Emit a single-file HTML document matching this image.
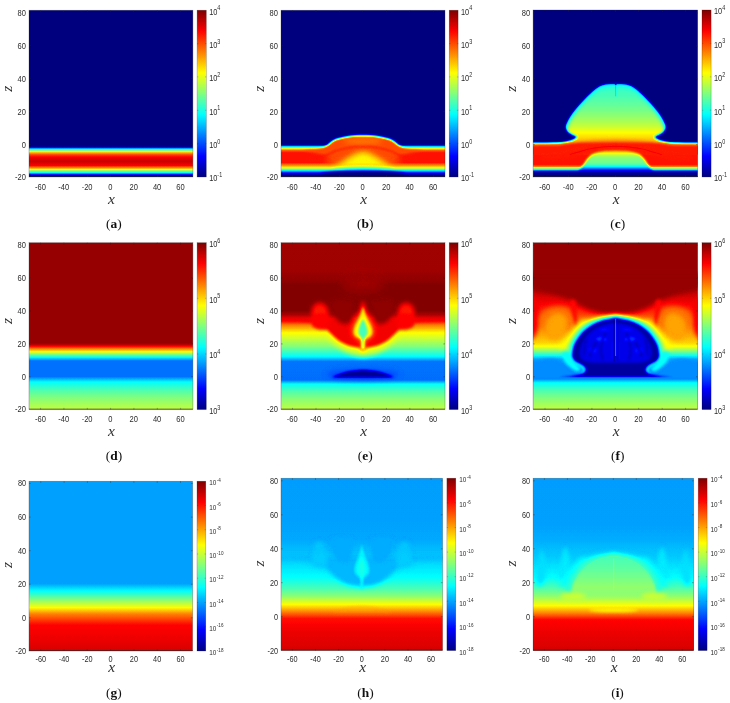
<!DOCTYPE html>
<html lang="en">
<head>
<meta charset="utf-8">
<title>Figure: density, temperature and emissivity maps (a)-(i)</title>
<style>
html,body{margin:0;padding:0;background:#fff}
svg{display:block}
text{font-family:"Liberation Sans",Arial,sans-serif;font-size:7.8px;fill:#2c2c2c}
text.m{font-family:"Liberation Serif","DejaVu Serif",serif;font-style:italic;font-size:15.5px;fill:#303030}
text.c{font-family:"Liberation Serif","DejaVu Serif",serif;font-size:13.4px;fill:#111}
</style>
</head>
<body>
<svg width="730" height="703" viewBox="0 0 730 703">
<defs>
<filter id="jet" filterUnits="userSpaceOnUse" x="0" y="0" width="730" height="703" color-interpolation-filters="sRGB">
<feComponentTransfer>
<feFuncR type="table" tableValues="0 0 0 0 0.5 1 1 1 0.5"/>
<feFuncG type="table" tableValues="0 0 0.5 1 1 1 0.5 0 0"/>
<feFuncB type="table" tableValues="0.5 1 1 1 0.5 0 0 0 0"/>
</feComponentTransfer>
</filter>
<filter id="soft" filterUnits="userSpaceOnUse" x="0" y="0" width="730" height="703"><feGaussianBlur stdDeviation="0.28"/></filter>
<linearGradient id="ga" gradientUnits="userSpaceOnUse" x1="0" y1="0" x2="0" y2="166.9"><stop offset="0.0000" stop-color="#000000"/><stop offset="0.8125" stop-color="#000000"/><stop offset="0.8185" stop-color="#080808"/><stop offset="0.8328" stop-color="#606060"/><stop offset="0.8436" stop-color="#8c8c8c"/><stop offset="0.8520" stop-color="#adadad"/><stop offset="0.8652" stop-color="#cccccc"/><stop offset="0.8796" stop-color="#dfdfdf"/><stop offset="0.9053" stop-color="#ededed"/><stop offset="0.9311" stop-color="#dfdfdf"/><stop offset="0.9437" stop-color="#bfbfbf"/><stop offset="0.9545" stop-color="#9f9f9f"/><stop offset="0.9652" stop-color="#787878"/><stop offset="0.9736" stop-color="#606060"/><stop offset="0.9820" stop-color="#333333"/><stop offset="0.9904" stop-color="#080808"/><stop offset="1.0000" stop-color="#000000"/></linearGradient>
<linearGradient id="gb" gradientUnits="userSpaceOnUse" x1="0" y1="0" x2="0" y2="166.9"><stop offset="0.0000" stop-color="#000000"/><stop offset="0.8005" stop-color="#000000"/><stop offset="0.8065" stop-color="#080808"/><stop offset="0.8185" stop-color="#606060"/><stop offset="0.8286" stop-color="#999999"/><stop offset="0.8400" stop-color="#c7c7c7"/><stop offset="0.8544" stop-color="#dbdbdb"/><stop offset="0.9155" stop-color="#dbdbdb"/><stop offset="0.9317" stop-color="#c7c7c7"/><stop offset="0.9455" stop-color="#9f9f9f"/><stop offset="0.9599" stop-color="#606060"/><stop offset="0.9754" stop-color="#1f1f1f"/><stop offset="0.9886" stop-color="#050505"/><stop offset="1.0000" stop-color="#000000"/></linearGradient>
<linearGradient id="gb2" gradientUnits="userSpaceOnUse" x1="0" y1="152.5" x2="0" y2="166.9"><stop offset="0.0000" stop-color="#b2b2b2" stop-opacity="0"/><stop offset="0.1875" stop-color="#b2b2b2" stop-opacity="0.55"/><stop offset="0.3125" stop-color="#a7a7a7" stop-opacity="1"/><stop offset="0.3681" stop-color="#9f9f9f"/><stop offset="0.5347" stop-color="#606060"/><stop offset="0.7153" stop-color="#1f1f1f"/><stop offset="0.8681" stop-color="#050505"/><stop offset="1.0000" stop-color="#000000"/></linearGradient>
<filter id="b3_0" filterUnits="userSpaceOnUse" x="-14" y="-14" width="192" height="195" color-interpolation-filters="sRGB"><feGaussianBlur stdDeviation="3"/></filter>
<filter id="b0_8" filterUnits="userSpaceOnUse" x="-14" y="-14" width="192" height="195" color-interpolation-filters="sRGB"><feGaussianBlur stdDeviation="0.8"/></filter>
<filter id="b2_2" filterUnits="userSpaceOnUse" x="-14" y="-14" width="192" height="195" color-interpolation-filters="sRGB"><feGaussianBlur stdDeviation="2.2"/></filter>
<filter id="b0_9" filterUnits="userSpaceOnUse" x="-14" y="-14" width="192" height="195" color-interpolation-filters="sRGB"><feGaussianBlur stdDeviation="0.9"/></filter>
<filter id="b1_9" filterUnits="userSpaceOnUse" x="-14" y="-14" width="192" height="195" color-interpolation-filters="sRGB"><feGaussianBlur stdDeviation="1.9"/></filter>
<filter id="b1_5" filterUnits="userSpaceOnUse" x="-14" y="-14" width="192" height="195" color-interpolation-filters="sRGB"><feGaussianBlur stdDeviation="1.5"/></filter>
<linearGradient id="gc" gradientUnits="userSpaceOnUse" x1="0" y1="0" x2="0" y2="166.9"><stop offset="0.0000" stop-color="#000000"/><stop offset="0.7825" stop-color="#000000"/><stop offset="0.7885" stop-color="#080808"/><stop offset="0.8005" stop-color="#606060"/><stop offset="0.8089" stop-color="#999999"/><stop offset="0.8167" stop-color="#c7c7c7"/><stop offset="0.8268" stop-color="#dbdbdb"/><stop offset="0.9245" stop-color="#dbdbdb"/><stop offset="0.9359" stop-color="#c7c7c7"/><stop offset="0.9437" stop-color="#9f9f9f"/><stop offset="0.9557" stop-color="#606060"/><stop offset="0.9646" stop-color="#262626"/><stop offset="0.9742" stop-color="#050505"/><stop offset="1.0000" stop-color="#000000"/></linearGradient>
<linearGradient id="gcd" gradientUnits="userSpaceOnUse" x1="0" y1="74" x2="0" y2="136"><stop offset="0.0000" stop-color="#6b6b6b"/><stop offset="0.1774" stop-color="#717171"/><stop offset="0.4194" stop-color="#7d7d7d"/><stop offset="0.6129" stop-color="#8b8b8b"/><stop offset="0.7097" stop-color="#959595"/><stop offset="0.7903" stop-color="#a1a1a1"/><stop offset="0.8710" stop-color="#aaaaaa"/><stop offset="0.9355" stop-color="#b8b8b8"/><stop offset="1.0000" stop-color="#c7c7c7"/></linearGradient>
<clipPath id="cdome"><path d="M-14 133.6C-11.7 133.6 -5.1 133.6 0 133.6C5.1 133.6 12.3 133.5 16.9 133.3C21.5 133.1 24.8 132.9 27.6 132.6C30.4 132.3 31.7 132.1 33.8 131.6C35.9 131.1 38.5 130.4 40.1 129.6C41.7 128.8 43.8 127.8 43.6 126.9C43.5 126.1 40.7 125.4 39.2 124.5C37.7 123.6 35.8 122.7 34.7 121.4C33.7 120.2 32.9 118.6 32.9 117C32.9 115.4 33.5 114 34.7 111.6C35.9 109.2 37.7 106 40.1 102.7C42.5 99.5 46 95.3 49 92.1C52 88.8 55.6 85.4 57.9 83.2C60.2 81 61.3 80.2 62.8 79C64.3 77.8 65.5 77 67 76.3C68.5 75.6 70.1 75 71.8 74.7C73.5 74.4 75.2 74.3 77 74.2C78.8 74.2 80.5 74.2 82.3 74.2C84.1 74.2 85.8 74.2 87.6 74.2C89.3 74.3 91.1 74.4 92.8 74.7C94.5 75 96.1 75.6 97.6 76.3C99.1 77 100.3 77.8 101.8 79C103.3 80.2 104.4 81 106.7 83.2C109 85.4 112.6 88.8 115.6 92.1C118.6 95.3 122.1 99.5 124.5 102.7C126.9 106 128.7 109.2 129.9 111.6C131.1 114 131.7 115.4 131.7 117C131.7 118.6 130.9 120.2 129.9 121.4C128.8 122.7 126.9 123.6 125.4 124.5C123.9 125.4 121.2 126.1 121 126.9C120.8 127.8 122.9 128.8 124.5 129.6C126.1 130.4 128.7 131.1 130.8 131.6C132.9 132.1 134.2 132.3 137 132.6C139.8 132.9 143.1 133.1 147.7 133.3C152.3 133.5 159.4 133.6 164.6 133.6C169.8 133.6 176.3 133.6 178.6 133.6L178.6 144.5L-14 144.5Z"/></clipPath>
<linearGradient id="gcav" gradientUnits="userSpaceOnUse" x1="0" y1="138" x2="0" y2="166.9"><stop offset="0.0000" stop-color="#c7c7c7"/><stop offset="0.0830" stop-color="#b8b8b8"/><stop offset="0.1592" stop-color="#a1a1a1"/><stop offset="0.2561" stop-color="#8c8c8c"/><stop offset="0.3633" stop-color="#808080"/><stop offset="0.5398" stop-color="#7a7a7a"/><stop offset="0.6436" stop-color="#606060"/><stop offset="0.7474" stop-color="#262626"/><stop offset="0.8374" stop-color="#050505"/><stop offset="1.0000" stop-color="#000000"/></linearGradient>
<filter id="b1_1" filterUnits="userSpaceOnUse" x="-14" y="-14" width="192" height="195" color-interpolation-filters="sRGB"><feGaussianBlur stdDeviation="1.1"/></filter>
<filter id="b1_8" filterUnits="userSpaceOnUse" x="-14" y="-14" width="192" height="195" color-interpolation-filters="sRGB"><feGaussianBlur stdDeviation="1.8"/></filter>
<filter id="b2_6" filterUnits="userSpaceOnUse" x="-14" y="-14" width="192" height="195" color-interpolation-filters="sRGB"><feGaussianBlur stdDeviation="2.6"/></filter>
<filter id="b1_2" filterUnits="userSpaceOnUse" x="-14" y="-14" width="192" height="195" color-interpolation-filters="sRGB"><feGaussianBlur stdDeviation="1.2"/></filter>
<filter id="b1_3" filterUnits="userSpaceOnUse" x="-14" y="-14" width="192" height="195" color-interpolation-filters="sRGB"><feGaussianBlur stdDeviation="1.3"/></filter>
<filter id="b0_7" filterUnits="userSpaceOnUse" x="-14" y="-14" width="192" height="195" color-interpolation-filters="sRGB"><feGaussianBlur stdDeviation="0.7"/></filter>
<filter id="b0_5" filterUnits="userSpaceOnUse" x="-14" y="-14" width="192" height="195" color-interpolation-filters="sRGB"><feGaussianBlur stdDeviation="0.5"/></filter>
<linearGradient id="gd" gradientUnits="userSpaceOnUse" x1="0" y1="0" x2="0" y2="166.9"><stop offset="0.0000" stop-color="#f9f9f9"/><stop offset="0.5992" stop-color="#f9f9f9"/><stop offset="0.6075" stop-color="#f5f5f5"/><stop offset="0.6207" stop-color="#dfdfdf"/><stop offset="0.6351" stop-color="#bfbfbf"/><stop offset="0.6531" stop-color="#9f9f9f"/><stop offset="0.6681" stop-color="#808080"/><stop offset="0.6860" stop-color="#606060"/><stop offset="0.7076" stop-color="#3c3c3c"/><stop offset="0.8017" stop-color="#3c3c3c"/><stop offset="0.8346" stop-color="#606060"/><stop offset="0.8850" stop-color="#737373"/><stop offset="0.9287" stop-color="#808080"/><stop offset="1.0000" stop-color="#909090"/></linearGradient>
<linearGradient id="gg" gradientUnits="userSpaceOnUse" x1="0" y1="0" x2="0" y2="166.9"><stop offset="0.0000" stop-color="#484848"/><stop offset="0.6022" stop-color="#484848"/><stop offset="0.6465" stop-color="#606060"/><stop offset="0.6962" stop-color="#808080"/><stop offset="0.7442" stop-color="#9f9f9f"/><stop offset="0.7819" stop-color="#bfbfbf"/><stop offset="0.8472" stop-color="#dfdfdf"/><stop offset="0.9209" stop-color="#e3e3e3"/><stop offset="1.0000" stop-color="#e9e9e9"/></linearGradient>
<linearGradient id="ge" gradientUnits="userSpaceOnUse" x1="0" y1="0" x2="0" y2="166.9"><stop offset="0.0000" stop-color="#f6f6f6"/><stop offset="0.1678" stop-color="#f7f7f7"/><stop offset="0.2157" stop-color="#fafafa"/><stop offset="0.2576" stop-color="#fefefe"/><stop offset="0.4074" stop-color="#fefefe"/><stop offset="0.4374" stop-color="#f2f2f2"/><stop offset="0.4632" stop-color="#dfdfdf"/><stop offset="0.4943" stop-color="#bfbfbf"/><stop offset="0.5404" stop-color="#9f9f9f"/><stop offset="0.6207" stop-color="#808080"/><stop offset="0.6806" stop-color="#606060"/><stop offset="0.7112" stop-color="#3d3d3d"/><stop offset="0.8226" stop-color="#3b3b3b"/><stop offset="0.8466" stop-color="#606060"/><stop offset="0.8898" stop-color="#737373"/><stop offset="0.9317" stop-color="#808080"/><stop offset="1.0000" stop-color="#909090"/></linearGradient>
<filter id="b4_0" filterUnits="userSpaceOnUse" x="-14" y="-14" width="192" height="195" color-interpolation-filters="sRGB"><feGaussianBlur stdDeviation="4"/></filter>
<filter id="b2_8" filterUnits="userSpaceOnUse" x="-14" y="-14" width="192" height="195" color-interpolation-filters="sRGB"><feGaussianBlur stdDeviation="2.8"/></filter>
<filter id="b2_0" filterUnits="userSpaceOnUse" x="-14" y="-14" width="192" height="195" color-interpolation-filters="sRGB"><feGaussianBlur stdDeviation="2"/></filter>
<filter id="b1_6" filterUnits="userSpaceOnUse" x="-14" y="-14" width="192" height="195" color-interpolation-filters="sRGB"><feGaussianBlur stdDeviation="1.6"/></filter>
<filter id="b1_0" filterUnits="userSpaceOnUse" x="-14" y="-14" width="192" height="195" color-interpolation-filters="sRGB"><feGaussianBlur stdDeviation="1"/></filter>
<filter id="b2_5" filterUnits="userSpaceOnUse" x="-14" y="-14" width="192" height="195" color-interpolation-filters="sRGB"><feGaussianBlur stdDeviation="2.5"/></filter>
<linearGradient id="gh" gradientUnits="userSpaceOnUse" x1="0" y1="0" x2="0" y2="166.9"><stop offset="0.0000" stop-color="#474747"/><stop offset="0.2397" stop-color="#484848"/><stop offset="0.3529" stop-color="#4a4a4a"/><stop offset="0.4715" stop-color="#545454"/><stop offset="0.5752" stop-color="#606060"/><stop offset="0.6345" stop-color="#707070"/><stop offset="0.6794" stop-color="#808080"/><stop offset="0.7316" stop-color="#9f9f9f"/><stop offset="0.7759" stop-color="#bfbfbf"/><stop offset="0.8131" stop-color="#dbdbdb"/><stop offset="0.8724" stop-color="#e2e2e2"/><stop offset="1.0000" stop-color="#e9e9e9"/></linearGradient>
<filter id="b1_4" filterUnits="userSpaceOnUse" x="-14" y="-14" width="192" height="195" color-interpolation-filters="sRGB"><feGaussianBlur stdDeviation="1.4"/></filter>
<linearGradient id="gf" gradientUnits="userSpaceOnUse" x1="0" y1="0" x2="0" y2="166.9"><stop offset="0.0000" stop-color="#f9f9f9"/><stop offset="0.2516" stop-color="#f9f9f9"/><stop offset="0.2936" stop-color="#f2f2f2"/><stop offset="0.3295" stop-color="#e7e7e7"/><stop offset="0.3775" stop-color="#dfdfdf"/><stop offset="0.4134" stop-color="#d5d5d5"/><stop offset="0.4554" stop-color="#c7c7c7"/><stop offset="0.5273" stop-color="#bbbbbb"/><stop offset="0.5692" stop-color="#b2b2b2"/><stop offset="0.5992" stop-color="#aaaaaa"/><stop offset="0.6201" stop-color="#9f9f9f"/><stop offset="0.6501" stop-color="#808080"/><stop offset="0.6771" stop-color="#606060"/><stop offset="0.6980" stop-color="#494949"/><stop offset="0.7669" stop-color="#444444"/><stop offset="0.8167" stop-color="#424242"/><stop offset="0.8394" stop-color="#606060"/><stop offset="0.8868" stop-color="#737373"/><stop offset="0.9317" stop-color="#808080"/><stop offset="1.0000" stop-color="#909090"/></linearGradient>
<clipPath id="cfd"><path d="M26 134.5C27.9 134.3 33.9 133.9 37.3 133.5C40.7 133.1 43.8 132.6 46.2 131.9C48.6 131.2 50.6 130.2 51.6 129.2C52.6 128.1 52.7 126.8 52.2 125.6C51.7 124.4 50.4 123.2 48.8 122.1C47.2 121 44.1 120 42.6 118.9C41.1 117.8 40.5 116.8 39.9 115.6C39.3 114.4 38.9 114 39.1 111.9C39.3 109.8 39.9 105.7 40.9 102.8C41.9 99.9 43.7 97.3 45.4 94.8C47.1 92.3 48.8 90.1 51.1 88C53.4 85.9 56.1 83.9 59 82.3C61.9 80.7 65 79.3 68.2 78.3C71.4 77.2 76.1 76.5 78.4 76C80.8 75.5 81 75.6 82.3 75.6C83.6 75.6 83.8 75.5 86.2 76C88.5 76.5 93.2 77.2 96.4 78.3C99.6 79.3 102.8 80.7 105.6 82.3C108.4 83.9 111.2 85.9 113.5 88C115.8 90.1 117.5 92.3 119.2 94.8C120.9 97.3 122.6 99.9 123.7 102.8C124.7 105.7 125.3 109.8 125.5 111.9C125.7 114 125.3 114.4 124.7 115.6C124.1 116.8 123.5 117.8 122 118.9C120.5 120 117.4 121 115.8 122.1C114.2 123.2 112.9 124.4 112.4 125.6C111.9 126.8 112 128.1 113 129.2C114 130.2 116 131.2 118.4 131.9C120.8 132.6 123.9 133.1 127.3 133.5C130.7 133.9 136.7 134.3 138.6 134.5Z"/></clipPath>
<filter id="b1_7" filterUnits="userSpaceOnUse" x="-14" y="-14" width="192" height="195" color-interpolation-filters="sRGB"><feGaussianBlur stdDeviation="1.7"/></filter>
<filter id="b0_6" filterUnits="userSpaceOnUse" x="-14" y="-14" width="192" height="195" color-interpolation-filters="sRGB"><feGaussianBlur stdDeviation="0.6"/></filter>
<linearGradient id="gi" gradientUnits="userSpaceOnUse" x1="0" y1="0" x2="0" y2="166.9"><stop offset="0.0000" stop-color="#474747"/><stop offset="0.2696" stop-color="#484848"/><stop offset="0.3529" stop-color="#4b4b4b"/><stop offset="0.4715" stop-color="#545454"/><stop offset="0.5752" stop-color="#606060"/><stop offset="0.6345" stop-color="#737373"/><stop offset="0.6794" stop-color="#808080"/><stop offset="0.7388" stop-color="#9f9f9f"/><stop offset="0.7831" stop-color="#bfbfbf"/><stop offset="0.8203" stop-color="#dedede"/><stop offset="0.8748" stop-color="#e2e2e2"/><stop offset="1.0000" stop-color="#e9e9e9"/></linearGradient>
<linearGradient id="gi2" gradientUnits="userSpaceOnUse" x1="0" y1="106" x2="0" y2="166.9"><stop offset="0.0000" stop-color="#737373" stop-opacity="0"/><stop offset="0.0821" stop-color="#7c7c7c" stop-opacity="0.5"/><stop offset="0.1642" stop-color="#888888" stop-opacity="1"/><stop offset="0.2841" stop-color="#9f9f9f"/><stop offset="0.4056" stop-color="#bfbfbf"/><stop offset="0.5074" stop-color="#dedede"/><stop offset="0.6568" stop-color="#e2e2e2"/><stop offset="1.0000" stop-color="#e9e9e9"/></linearGradient>
<linearGradient id="gid" gradientUnits="userSpaceOnUse" x1="0" y1="74" x2="0" y2="124"><stop offset="0.0000" stop-color="#707070"/><stop offset="0.3200" stop-color="#797979"/><stop offset="0.6000" stop-color="#838383"/><stop offset="0.8000" stop-color="#8c8c8c"/><stop offset="1.0000" stop-color="#999999"/></linearGradient>
<filter id="b2_4" filterUnits="userSpaceOnUse" x="-14" y="-14" width="192" height="195" color-interpolation-filters="sRGB"><feGaussianBlur stdDeviation="2.4"/></filter>
<clipPath id="cpa"><rect x="29" y="10.2" width="163.9" height="166.8"/></clipPath>
<clipPath id="cpb"><rect x="281" y="10.2" width="164" height="166.8"/></clipPath>
<clipPath id="cpc"><rect x="533.1" y="10" width="164.6" height="167"/></clipPath>
<clipPath id="cpd"><rect x="29" y="242.7" width="163.9" height="166.9"/></clipPath>
<clipPath id="cpe"><rect x="281" y="242.7" width="164" height="166.9"/></clipPath>
<clipPath id="cpf"><rect x="533.1" y="242.7" width="164.6" height="166.9"/></clipPath>
<clipPath id="cpg"><rect x="29" y="481.2" width="163.6" height="169.8"/></clipPath>
<clipPath id="cph"><rect x="281" y="478.2" width="161.6" height="172.4"/></clipPath>
<clipPath id="cpi"><rect x="533.1" y="478.2" width="160.6" height="172.4"/></clipPath>
<linearGradient id="cbar" x1="0" y1="1" x2="0" y2="0"><stop offset="0" stop-color="#000"/><stop offset="1" stop-color="#fff"/></linearGradient>
</defs>
<g filter="url(#jet)">
<g clip-path="url(#cpa)"><g transform="translate(29 10.2) scale(0.9994 0.9994)">
<rect x="-2" y="-2" width="168" height="171" fill="url(#ga)"/>
</g></g>
<rect x="197.1" y="10.2" width="9.2" height="166.8" fill="url(#cbar)"/>
<g clip-path="url(#cpb)"><g transform="translate(281 10.2) scale(1.0000 0.9994)">
<rect x="-2" y="-2" width="168" height="171" fill="url(#gb)"/>
<path d="M49 139L115 139L119 156L45 156Z" fill="#cdcdcd" filter="url(#b3_0)"/>
<path d="M20 139.6C22 139.6 29 139.6 32 139.4C35 139.2 36.2 138.9 38 138.6C39.8 138.2 41.6 137.9 43 137.3C44.4 136.7 45.3 136 46.5 135.2C47.7 134.3 48.7 133.2 50 132.2C51.3 131.2 52.3 130.2 54.5 129.4C56.7 128.6 60.4 127.8 63.4 127.2C66.4 126.6 69.2 126.3 72.3 126C75.4 125.7 78.8 125.6 82 125.6C85.2 125.6 88.6 125.7 91.7 126C94.8 126.3 97.6 126.6 100.6 127.2C103.6 127.8 107.3 128.6 109.5 129.4C111.7 130.2 112.7 131.2 114 132.2C115.3 133.2 116.3 134.3 117.5 135.2C118.7 136 119.6 136.7 121 137.3C122.4 137.9 124.2 138.2 126 138.6C127.8 138.9 129 139.2 132 139.4C135 139.6 142 139.6 144 139.6L112 147L52 147Z" fill="#cdcdcd" filter="url(#b0_8)"/>
<ellipse cx="82" cy="131" rx="19" ry="3.4" fill="#c2c2c2" filter="url(#b2_2)"/>
<path d="M31 149.1C33 148.5 40.2 146.6 43.3 145.7C46.4 144.7 47.4 144.1 49.5 143.2C51.5 142.3 52.6 141.4 55.6 140.5C58.7 139.5 63.6 138.2 68 137.5C72.4 136.9 77.3 136.6 82 136.6C86.7 136.6 91.6 136.9 96 137.5C100.4 138.2 105.3 139.5 108.4 140.5C111.4 141.4 112.5 142.3 114.5 143.2C116.6 144.1 117.6 144.7 120.7 145.7C123.8 146.6 131 148.5 133 149.1" fill="none" stroke="#dbdbdb" stroke-width="1.5" stroke-linecap="round" filter="url(#b0_9)"/>
<path d="M42.1 167.6C42.8 166.4 44 162.5 46.3 160.2C48.5 157.9 52.4 155.7 55.6 153.5C58.8 151.4 62.4 149 65.5 147.1C68.6 145.2 71.4 143.3 74.1 142.2C76.9 141.1 79.4 140.4 82 140.4C84.6 140.4 87.1 141.1 89.9 142.2C92.6 143.3 95.4 145.2 98.5 147.1C101.6 149 105.2 151.4 108.4 153.5C111.6 155.7 115.5 157.9 117.7 160.2C120 162.5 121.2 166.4 121.9 167.6Z" fill="#b6b6b6" filter="url(#b2_2)"/>
<path d="M49.5 167.6C50.2 166.4 52 162.4 53.9 160.2C55.8 158 58.5 156.4 61.1 154.5C63.6 152.7 66.6 150.7 69.2 149.1C71.8 147.5 74.5 146 76.6 145.2C78.7 144.3 80.2 143.8 82 143.8C83.8 143.8 85.3 144.3 87.4 145.2C89.5 146 92.2 147.5 94.8 149.1C97.4 150.7 100.4 152.7 102.9 154.5C105.5 156.4 108.2 158 110.1 160.2C112 162.4 113.8 166.4 114.5 167.6Z" fill="#a1a1a1" filter="url(#b1_9)"/>
<rect x="-2" y="152.5" width="168" height="15" fill="url(#gb2)"/>
<ellipse cx="82" cy="158.8" rx="30" ry="1.8" fill="#6b6b6b" filter="url(#b1_5)"/>
<ellipse cx="82" cy="164.6" rx="42" ry="4.2" fill="#000000" filter="url(#b1_5)"/>
</g></g>
<rect x="449.2" y="10.2" width="8.9" height="166.8" fill="url(#cbar)"/>
<g clip-path="url(#cpc)"><g transform="translate(533.1 10) scale(1.0037 1.0006)">
<rect x="-2" y="-2" width="168" height="171" fill="url(#gc)"/>
<path d="M-14 133.6C-11.7 133.6 -5.1 133.6 0 133.6C5.1 133.6 12.3 133.5 16.9 133.3C21.5 133.1 24.8 132.9 27.6 132.6C30.4 132.3 31.7 132.1 33.8 131.6C35.9 131.1 38.5 130.4 40.1 129.6C41.7 128.8 43.8 127.8 43.6 126.9C43.5 126.1 40.7 125.4 39.2 124.5C37.7 123.6 35.8 122.7 34.7 121.4C33.7 120.2 32.9 118.6 32.9 117C32.9 115.4 33.5 114 34.7 111.6C35.9 109.2 37.7 106 40.1 102.7C42.5 99.5 46 95.3 49 92.1C52 88.8 55.6 85.4 57.9 83.2C60.2 81 61.3 80.2 62.8 79C64.3 77.8 65.5 77 67 76.3C68.5 75.6 70.1 75 71.8 74.7C73.5 74.4 75.2 74.3 77 74.2C78.8 74.2 80.5 74.2 82.3 74.2C84.1 74.2 85.8 74.2 87.6 74.2C89.3 74.3 91.1 74.4 92.8 74.7C94.5 75 96.1 75.6 97.6 76.3C99.1 77 100.3 77.8 101.8 79C103.3 80.2 104.4 81 106.7 83.2C109 85.4 112.6 88.8 115.6 92.1C118.6 95.3 122.1 99.5 124.5 102.7C126.9 106 128.7 109.2 129.9 111.6C131.1 114 131.7 115.4 131.7 117C131.7 118.6 130.9 120.2 129.9 121.4C128.8 122.7 126.9 123.6 125.4 124.5C123.9 125.4 121.2 126.1 121 126.9C120.8 127.8 122.9 128.8 124.5 129.6C126.1 130.4 128.7 131.1 130.8 131.6C132.9 132.1 134.2 132.3 137 132.6C139.8 132.9 143.1 133.1 147.7 133.3C152.3 133.5 159.4 133.6 164.6 133.6C169.8 133.6 176.3 133.6 178.6 133.6L178.6 139L-14 139Z" fill="url(#gcd)" filter="url(#b1_1)"/>
<g clip-path="url(#cdome)"><path d="M32.9 117C33.2 116.1 33.5 114 34.7 111.6C35.9 109.2 37.7 106 40.1 102.7C42.5 99.5 46 95.3 49 92.1C52 88.8 55.6 85.4 57.9 83.2C60.2 81 61.3 80.2 62.8 79C64.3 77.8 65.5 77 67 76.3C68.5 75.6 70.1 75 71.8 74.7C73.5 74.4 75.2 74.3 77 74.2C78.8 74.2 80.5 74.2 82.3 74.2C84.1 74.2 85.8 74.2 87.6 74.2C89.3 74.3 91.1 74.4 92.8 74.7C94.5 75 96.1 75.6 97.6 76.3C99.1 77 100.3 77.8 101.8 79C103.3 80.2 104.4 81 106.7 83.2C109 85.4 112.6 88.8 115.6 92.1C118.6 95.3 122.1 99.5 124.5 102.7C126.9 106 128.7 109.2 129.9 111.6C131.1 114 131.4 116.1 131.7 117" fill="none" stroke="#636363" stroke-width="5" stroke-linecap="round" filter="url(#b1_8)" opacity="0.7"/><ellipse cx="82.3" cy="138" rx="40" ry="6.5" fill="#c9c9c9" filter="url(#b2_6)"/><path d="M-12 135.6C-6.7 135.6 13 135.7 20 135.5C27 135.3 26.7 135 30 134.6C33.3 134.2 37 133.5 40 133.2C43 132.9 44.3 132.7 48 132.6C51.7 132.5 56.3 132.6 62 132.6C67.7 132.6 75.5 132.6 82.3 132.6C89.1 132.6 96.9 132.6 102.6 132.6C108.3 132.6 112.9 132.5 116.6 132.6C120.3 132.7 121.6 132.9 124.6 133.2C127.6 133.5 131.3 134.2 134.6 134.6C137.9 135 137.6 135.3 144.6 135.5C151.6 135.7 171.3 135.6 176.6 135.6L176.6 150L-12 150Z" fill="#d9d9d9" filter="url(#b1_2)"/></g>
<path d="M43.2 165.9C43.7 165 45 162.3 46.2 160.5C47.3 158.6 48.8 156.8 50.1 154.8C51.5 152.8 52.8 150.4 54.3 148.6C55.9 146.8 57.1 145.2 59.5 143.9C61.9 142.7 65.1 141.7 68.9 141.1C72.7 140.5 77.8 140.4 82.3 140.4C86.8 140.4 91.9 140.5 95.7 141.1C99.5 141.7 102.7 142.7 105.1 143.9C107.5 145.2 108.7 146.8 110.3 148.6C111.8 150.4 113.1 152.8 114.5 154.8C115.8 156.8 117.3 158.6 118.4 160.5C119.6 162.3 120.9 165 121.4 165.9Z" fill="url(#gcav)" filter="url(#b1_3)"/>
<path d="M9.7 147.4C11.3 147.3 15.9 147.2 19.6 146.9C23.3 146.6 27.8 146.2 31.9 145.4C36 144.6 40.1 143.3 44.2 142.2C48.3 141.1 52.4 139.6 56.5 138.8C60.6 137.9 64.6 137.5 68.9 137C73.2 136.6 77.8 136.2 82.3 136.2C86.8 136.2 91.4 136.6 95.7 137C100 137.5 104 137.9 108.1 138.8C112.2 139.6 116.3 141.1 120.4 142.2C124.5 143.3 128.6 144.6 132.7 145.4C136.8 146.2 141.3 146.6 145 146.9C148.7 147.2 153.3 147.3 154.9 147.4" fill="none" stroke="#d9d9d9" stroke-width="4.6" stroke-linecap="round" filter="url(#b1_2)"/>
<path d="M36.8 144.4C38 144.1 40.9 143.2 44.2 142.2C47.5 141.3 52.4 139.6 56.5 138.8C60.6 137.9 64.6 137.5 68.9 137C73.2 136.6 77.8 136.2 82.3 136.2C86.8 136.2 91.4 136.6 95.7 137C100 137.5 104 137.9 108.1 138.8C112.2 139.6 117.1 141.3 120.4 142.2C123.7 143.2 126.6 144.1 127.8 144.4" fill="none" stroke="#e2e2e2" stroke-width="1" stroke-linecap="round" filter="url(#b0_7)"/>
<path d="M82.3 73V86" fill="none" stroke="#4c4c4c" stroke-width="0.8" stroke-linecap="round" filter="url(#b0_5)"/>
<ellipse cx="82.3" cy="73.4" rx="1.1" ry="1.4" fill="#0d0d0d" filter="url(#b0_5)"/>
</g></g>
<rect x="702" y="10" width="9.1" height="167" fill="url(#cbar)"/>
<g clip-path="url(#cpd)"><g transform="translate(29 242.7) scale(0.9994 1.0000)">
<rect x="-2" y="-2" width="168" height="171" fill="url(#gd)"/>
</g></g>
<rect x="197.1" y="242.7" width="9.2" height="166.9" fill="url(#cbar)"/>
<g clip-path="url(#cpe)"><g transform="translate(281 242.7) scale(1.0000 1.0000)">
<rect x="-2" y="-2" width="168" height="171" fill="url(#ge)"/>
<ellipse cx="82" cy="40" rx="20" ry="9" fill="#f7f7f7" filter="url(#b4_0)"/>
<path d="M-12 91C-5 91.1 21.2 91.3 30 91.5C38.8 91.7 38.2 91.4 41 92C43.8 92.6 45 93.5 47 95C49 96.5 50.8 99.1 53 101C55.2 102.9 57.5 104.9 60 106.5C62.5 108.1 65.3 109.5 68 110.5C70.7 111.5 73.7 112.3 76 112.8C78.3 113.3 80 113.5 82 113.5C84 113.5 85.7 113.3 88 112.8C90.3 112.3 93.3 111.5 96 110.5C98.7 109.5 101.5 108.1 104 106.5C106.5 104.9 108.8 102.9 111 101C113.2 99.1 115 96.5 117 95C119 93.5 120.2 92.6 123 92C125.8 91.4 125.2 91.7 134 91.5C142.8 91.3 169 91.1 176 91L176 92L-12 92Z" fill="#9e9e9e" filter="url(#b2_8)" opacity="0.85"/>
<path d="M-12 78.5C-8.3 78.5 3.3 78.6 10 78.8C16.7 79 23.2 79.1 28 79.6C32.8 80 35.7 80.4 38.5 81.5C41.3 82.6 43 84.4 45 86C47 87.6 48.5 89.5 50.2 91.2C52 92.9 53.6 94.7 55.5 96.2C57.4 97.7 59.5 99.2 61.7 100.4C63.9 101.6 66.5 102.6 68.9 103.3C71.3 104 73.8 104.4 76 104.7C78.2 105 80 105.2 82 105.2C84 105.2 85.8 105 88 104.7C90.2 104.4 92.7 104 95.1 103.3C97.5 102.6 100.1 101.6 102.3 100.4C104.5 99.2 106.6 97.7 108.5 96.2C110.4 94.7 112 92.9 113.8 91.2C115.5 89.5 117 87.6 119 86C121 84.4 122.7 82.6 125.5 81.5C128.3 80.4 131.2 80 136 79.6C140.8 79.1 147.3 79 154 78.8C160.7 78.6 172.3 78.5 176 78.5L176 75L-12 75Z" fill="#e2e2e2" filter="url(#b1_8)"/>
<path d="M51.5 58C48.2 60.2 51.5 67.6 52.5 71C53.5 74.4 55.5 76.8 57.5 78.5C59.5 80.2 62.4 81.5 64.5 81.5C66.6 81.5 68.8 80.6 70 78.5C71.2 76.4 71.6 72.4 72 69C72.4 65.6 75.9 59.8 72.5 58C69.1 56.2 54.8 55.8 51.5 58Z" fill="#fbfbfb" filter="url(#b2_0)"/>
<path d="M51.5 58C48.2 60.2 51.5 67.6 52.5 71C53.5 74.4 55.5 76.8 57.5 78.5C59.5 80.2 62.4 81.5 64.5 81.5C66.6 81.5 68.8 80.6 70 78.5C71.2 76.4 71.6 72.4 72 69C72.4 65.6 75.9 59.8 72.5 58C69.1 56.2 54.8 55.8 51.5 58Z" fill="#fbfbfb" filter="url(#b2_0)" transform="translate(164 0) scale(-1 1)"/>
<ellipse cx="38.8" cy="69.3" rx="8.3" ry="9.3" fill="#d9d9d9" filter="url(#b1_9)"/>
<ellipse cx="125.2" cy="69.3" rx="8.3" ry="9.3" fill="#d9d9d9" filter="url(#b1_9)"/>
<path d="M33 72C30.6 74 29.9 81.7 32 84C34.1 86.3 43.1 88 45.5 86C47.9 84 48.6 74.3 46.5 72C44.4 69.7 35.4 70 33 72Z" fill="#dfdfdf" filter="url(#b1_6)"/>
<path d="M33 72C30.6 74 29.9 81.7 32 84C34.1 86.3 43.1 88 45.5 86C47.9 84 48.6 74.3 46.5 72C44.4 69.7 35.4 70 33 72Z" fill="#dfdfdf" filter="url(#b1_6)" transform="translate(164 0) scale(-1 1)"/>
<path d="M82 58C81.2 58 80.7 63.3 79.6 66C78.5 68.7 77 71.3 75.6 74C74.2 76.7 72.3 79.5 71.4 82C70.5 84.5 70.1 86.9 70.2 89C70.3 91.1 70.8 92.9 72 94.5C73.2 96.1 76.4 97.2 77.6 98.6C78.8 100 78.9 101.5 79.2 103C79.5 104.5 78.7 106.8 79.6 107.5C80.5 108.2 83.5 108.2 84.4 107.5C85.3 106.8 84.5 104.5 84.8 103C85.1 101.5 85.2 100 86.4 98.6C87.6 97.2 90.8 96.1 92 94.5C93.2 92.9 93.7 91.1 93.8 89C93.9 86.9 93.5 84.5 92.6 82C91.7 79.5 89.8 76.7 88.4 74C87 71.3 85.5 68.7 84.4 66C83.3 63.3 82.8 58 82 58Z" fill="#cccccc" filter="url(#b2_0)"/>
<path d="M82 64.5C81.4 64.5 81 67.9 80.2 70C79.4 72.1 78.1 74.7 77 77C75.9 79.3 74.3 81.9 73.6 84C72.9 86.1 72.4 87.9 72.6 89.5C72.8 91.1 73.4 92.5 74.6 93.8C75.8 95 78.6 95.7 79.6 97C80.6 98.3 80.3 100 80.5 101.5C80.7 103 80.2 105.5 80.7 106.3C81.2 107.1 82.8 107.1 83.3 106.3C83.8 105.5 83.3 103 83.5 101.5C83.7 100 83.4 98.3 84.4 97C85.4 95.7 88.2 95 89.4 93.8C90.6 92.5 91.2 91.1 91.4 89.5C91.6 87.9 91.1 86.1 90.4 84C89.7 81.9 88.1 79.3 87 77C85.9 74.7 84.6 72.1 83.8 70C83 67.9 82.6 64.5 82 64.5Z" fill="#a2a2a2" filter="url(#b1_0)"/>
<path d="M82 76.5C81.2 76.5 80.3 79.4 79.6 81C78.9 82.6 78.1 84.4 77.8 86C77.5 87.6 77.3 89.2 77.6 90.5C77.9 91.8 79 92.7 79.6 93.8C80.2 94.9 81 95.2 81.3 97C81.6 98.8 81.3 103.5 81.5 104.8C81.7 106.1 82.3 106.1 82.5 104.8C82.7 103.5 82.4 98.8 82.7 97C83 95.2 83.8 94.9 84.4 93.8C85 92.7 86.1 91.8 86.4 90.5C86.7 89.2 86.5 87.6 86.2 86C85.9 84.4 85.1 82.6 84.4 81C83.7 79.4 82.8 76.5 82 76.5Z" fill="#707070" filter="url(#b1_0)"/>
<ellipse cx="82" cy="131.8" rx="36" ry="5.5" fill="#333333" filter="url(#b2_5)"/>
<path d="M50.9 134.5C52.5 133.9 57.2 131.8 60.5 130.7C63.7 129.7 66.9 128.9 70.5 128.4C74.1 127.8 78.2 127.2 82 127.2C85.8 127.2 89.9 127.8 93.4 128.4C97 128.9 100.2 129.7 103.5 130.7C106.8 131.8 111.5 133.9 113.1 134.5Z" fill="#050505" filter="url(#b0_8)"/>
</g></g>
<rect x="449.2" y="242.7" width="8.9" height="166.9" fill="url(#cbar)"/>
<g clip-path="url(#cpf)"><g transform="translate(533.1 242.7) scale(1.0037 1.0000)">
<rect x="-2" y="-2" width="168" height="171" fill="url(#gf)"/>
<path d="M-8 43.5C-5.8 44 0.8 45.3 5 46.5C9.2 47.7 13 49.2 17 50.5C21 51.8 25.3 53.1 29 54.5C32.7 55.9 36 57.3 39 58.8C42 60.2 43.8 61.6 47 63.2C50.2 64.8 54.2 67.1 58 68.4C61.8 69.7 66 70.6 70 71.2C74 71.8 78.2 71.8 82.3 71.8C86.4 71.8 90.5 71.8 94.6 71.2C98.6 70.6 102.8 69.7 106.6 68.4C110.4 67.1 114.4 64.8 117.6 63.2C120.8 61.6 122.6 60.2 125.6 58.8C128.6 57.3 131.9 55.9 135.6 54.5C139.3 53.1 143.6 51.8 147.6 50.5C151.6 49.2 155.4 47.7 159.6 46.5C163.8 45.3 170.4 44 172.6 43.5L172.6 30L-8 30Z" fill="#f9f9f9" filter="url(#b2_5)"/>
<path d="M-6 52C-4.4 45.5 1.4 54.7 3.5 58C5.6 61.3 6.2 67.7 6.5 72C6.8 76.3 5.8 80.5 5 84C4.2 87.5 3.3 90.8 1.5 93C-0.3 95.2 -4.8 103.8 -6 97C-7.2 90.2 -7.6 58.5 -6 52Z" fill="#e2e2e2" filter="url(#b2_2)"/>
<path d="M-6 52C-4.4 45.5 1.4 54.7 3.5 58C5.6 61.3 6.2 67.7 6.5 72C6.8 76.3 5.8 80.5 5 84C4.2 87.5 3.3 90.8 1.5 93C-0.3 95.2 -4.8 103.8 -6 97C-7.2 90.2 -7.6 58.5 -6 52Z" fill="#e2e2e2" filter="url(#b2_2)" transform="translate(164.6 0) scale(-1 1)"/>
<path d="M6 78C5.2 74.8 7.7 71.2 9.5 69C11.3 66.8 14.1 65.6 17 64.6C19.9 63.6 24 63.1 27 63.2C30 63.4 33.1 64 35 65.5C36.9 67 38 69.2 38.5 72C39 74.8 39.4 79.3 38 82C36.6 84.7 34 87 30 88C26 89 18 89.7 14 88C10 86.3 6.8 81.2 6 78Z" fill="#c3c3c3" filter="url(#b2_6)"/>
<path d="M6 78C5.2 74.8 7.7 71.2 9.5 69C11.3 66.8 14.1 65.6 17 64.6C19.9 63.6 24 63.1 27 63.2C30 63.4 33.1 64 35 65.5C36.9 67 38 69.2 38.5 72C39 74.8 39.4 79.3 38 82C36.6 84.7 34 87 30 88C26 89 18 89.7 14 88C10 86.3 6.8 81.2 6 78Z" fill="#c3c3c3" filter="url(#b2_6)" transform="translate(164.6 0) scale(-1 1)"/>
<path d="M12 84C12.2 80.8 13.3 78.2 15 76C16.7 73.8 19.5 71.7 22 71C24.5 70.3 28 70.7 30 72C32 73.3 33.7 76 34 79C34.3 82 33.7 87 32 90C30.3 93 27 96.2 24 97C21 97.8 16 97.2 14 95C12 92.8 11.8 87.2 12 84Z" fill="#b6b6b6" filter="url(#b2_2)"/>
<path d="M12 84C12.2 80.8 13.3 78.2 15 76C16.7 73.8 19.5 71.7 22 71C24.5 70.3 28 70.7 30 72C32 73.3 33.7 76 34 79C34.3 82 33.7 87 32 90C30.3 93 27 96.2 24 97C21 97.8 16 97.2 14 95C12 92.8 11.8 87.2 12 84Z" fill="#b6b6b6" filter="url(#b2_2)" transform="translate(164.6 0) scale(-1 1)"/>
<path d="M37 58C36.4 59.7 37.9 64.7 38.5 68C39.1 71.3 40.1 75.2 40.8 78C41.5 80.8 42.1 84.5 42.6 84.5C43.1 84.5 43.9 80.8 44 78C44.1 75.2 43.5 71.3 43.2 68C42.9 64.7 43.2 59.7 42.2 58C41.2 56.3 37.6 56.3 37 58Z" fill="#dddddd" filter="url(#b1_5)"/>
<path d="M37 58C36.4 59.7 37.9 64.7 38.5 68C39.1 71.3 40.1 75.2 40.8 78C41.5 80.8 42.1 84.5 42.6 84.5C43.1 84.5 43.9 80.8 44 78C44.1 75.2 43.5 71.3 43.2 68C42.9 64.7 43.2 59.7 42.2 58C41.2 56.3 37.6 56.3 37 58Z" fill="#dddddd" filter="url(#b1_5)" transform="translate(164.6 0) scale(-1 1)"/>
<path d="M25.5 105C25.9 104.3 26.8 102.5 28 100.8C29.2 99.1 31.1 96.8 32.9 94.6C34.7 92.4 36.7 89.8 38.6 87.6C40.5 85.4 42.6 83.1 44.3 81.4C46 79.7 47.2 78 49 77.2C50.8 76.4 51.8 77.4 55 76.8C58.2 76.2 64.3 74.5 68.2 73.7C72.1 73 76.1 72.6 78.4 72.3C80.8 72 81 71.8 82.3 71.8C83.6 71.8 83.8 72 86.2 72.3C88.5 72.6 92.5 73 96.4 73.7C100.3 74.5 106.4 76.2 109.6 76.8C112.8 77.4 113.8 76.4 115.6 77.2C117.4 78 118.6 79.7 120.3 81.4C122 83.1 124.1 85.4 126 87.6C127.9 89.8 129.9 92.4 131.7 94.6C133.5 96.8 135.4 99.1 136.6 100.8C137.8 102.5 138.7 104.3 139.1 105L139.1 105.5L25.5 105.5Z" fill="#9f9f9f" filter="url(#b2_2)"/>
<path d="M32 110.5C32.4 109.2 33.2 105.3 34.5 102.4C35.8 99.5 37.7 96.2 39.7 93.3C41.7 90.4 43.9 87.3 46.5 84.9C49.1 82.5 52 80.4 55.6 78.7C59.2 77 64.4 75.8 68.2 74.9C72 74 76.1 73.6 78.4 73.2C80.8 72.8 81 72.7 82.3 72.7C83.6 72.7 83.8 72.8 86.2 73.2C88.5 73.6 92.6 74 96.4 74.9C100.2 75.8 105.4 77 109 78.7C112.6 80.4 115.4 82.5 118.1 84.9C120.8 87.3 122.9 90.4 124.9 93.3C126.9 96.2 128.8 99.5 130.1 102.4C131.4 105.3 132.2 109.2 132.6 110.5Z" fill="#808080" filter="url(#b1_7)"/>
<path d="M28 133.8C30 133.6 36.8 133 40 132.4C43.2 131.8 45.9 131.1 47.5 130.2C49.1 129.3 49.9 128 49.8 127C49.7 126 48.5 125.2 47 124.2C45.5 123.2 42.6 122.4 41 121.3C39.4 120.2 38.3 119 37.5 117.5C36.7 116 36.3 114.5 36.4 112C36.5 109.5 37 105.7 38 102.6C39 99.5 40.8 96.2 42.6 93.5C44.4 90.8 46.4 88.3 48.8 86.1C51.2 83.9 53.6 82.1 56.8 80.4C60 78.7 64.6 77.2 68.2 76.1C71.8 75 76.1 74.4 78.4 74C80.8 73.6 81 73.5 82.3 73.5C83.6 73.5 83.8 73.6 86.2 74C88.5 74.4 92.8 75 96.4 76.1C100 77.2 104.6 78.7 107.8 80.4C111 82.1 113.4 83.9 115.8 86.1C118.2 88.3 120.2 90.8 122 93.5C123.8 96.2 125.6 99.5 126.6 102.6C127.6 105.7 128.1 109.5 128.2 112C128.3 114.5 127.9 116 127.1 117.5C126.3 119 125.2 120.2 123.6 121.3C122 122.4 119.1 123.2 117.6 124.2C116.1 125.2 114.9 126 114.8 127C114.7 128 115.5 129.3 117.1 130.2C118.7 131.1 121.3 131.8 124.6 132.4C127.8 133 134.6 133.6 136.6 133.8Z" fill="#606060" filter="url(#b1_3)"/>
<path d="M-10 119.2C-7.7 115.9 0.2 118.5 4 118C7.8 117.5 10.2 116.4 13 116.2C15.8 116 18.3 116 21 116.6C23.7 117.2 26.4 118.6 29 120C31.6 121.4 34.2 123.5 36.5 125.2C38.8 126.9 40.9 128.6 43 130C45.1 131.4 49.5 132.2 49 133.4C48.5 134.6 49.8 136.2 40 137C30.2 137.8 -1.7 141 -10 138C-18.3 135 -12.3 122.5 -10 119.2Z" fill="#434343" filter="url(#b1_5)"/>
<path d="M-10 119.2C-7.7 115.9 0.2 118.5 4 118C7.8 117.5 10.2 116.4 13 116.2C15.8 116 18.3 116 21 116.6C23.7 117.2 26.4 118.6 29 120C31.6 121.4 34.2 123.5 36.5 125.2C38.8 126.9 40.9 128.6 43 130C45.1 131.4 49.5 132.2 49 133.4C48.5 134.6 49.8 136.2 40 137C30.2 137.8 -1.7 141 -10 138C-18.3 135 -12.3 122.5 -10 119.2Z" fill="#434343" filter="url(#b1_5)" transform="translate(164.6 0) scale(-1 1)"/>
<path d="M29.5 110C30.6 108.6 35.8 108.2 37.5 109.5C39.2 110.8 38.5 115.8 39.5 118C40.5 120.2 42.2 121.2 43.5 122.6C44.8 124 47.2 125.6 47.2 126.6C47.2 127.6 45.3 129 43.5 128.6C41.7 128.2 38.6 125.8 36.5 124C34.4 122.2 32.2 120.3 31 118C29.8 115.7 28.4 111.4 29.5 110Z" fill="#626262" filter="url(#b1_4)"/>
<path d="M29.5 110C30.6 108.6 35.8 108.2 37.5 109.5C39.2 110.8 38.5 115.8 39.5 118C40.5 120.2 42.2 121.2 43.5 122.6C44.8 124 47.2 125.6 47.2 126.6C47.2 127.6 45.3 129 43.5 128.6C41.7 128.2 38.6 125.8 36.5 124C34.4 122.2 32.2 120.3 31 118C29.8 115.7 28.4 111.4 29.5 110Z" fill="#626262" filter="url(#b1_4)" transform="translate(164.6 0) scale(-1 1)"/>
<path d="M26 134.5C27.9 134.3 33.9 133.9 37.3 133.5C40.7 133.1 43.8 132.6 46.2 131.9C48.6 131.2 50.6 130.2 51.6 129.2C52.6 128.1 52.7 126.8 52.2 125.6C51.7 124.4 50.4 123.2 48.8 122.1C47.2 121 44.1 120 42.6 118.9C41.1 117.8 40.5 116.8 39.9 115.6C39.3 114.4 38.9 114 39.1 111.9C39.3 109.8 39.9 105.7 40.9 102.8C41.9 99.9 43.7 97.3 45.4 94.8C47.1 92.3 48.8 90.1 51.1 88C53.4 85.9 56.1 83.9 59 82.3C61.9 80.7 65 79.3 68.2 78.3C71.4 77.2 76.1 76.5 78.4 76C80.8 75.5 81 75.6 82.3 75.6C83.6 75.6 83.8 75.5 86.2 76C88.5 76.5 93.2 77.2 96.4 78.3C99.6 79.3 102.8 80.7 105.6 82.3C108.4 83.9 111.2 85.9 113.5 88C115.8 90.1 117.5 92.3 119.2 94.8C120.9 97.3 122.6 99.9 123.7 102.8C124.7 105.7 125.3 109.8 125.5 111.9C125.7 114 125.3 114.4 124.7 115.6C124.1 116.8 123.5 117.8 122 118.9C120.5 120 117.4 121 115.8 122.1C114.2 123.2 112.9 124.4 112.4 125.6C111.9 126.8 112 128.1 113 129.2C114 130.2 116 131.2 118.4 131.9C120.8 132.6 123.9 133.1 127.3 133.5C130.7 133.9 136.7 134.3 138.6 134.5Z" fill="#080808" filter="url(#b0_8)"/>
<g clip-path="url(#cfd)"><path d="M68 120C66 119.9 59.2 120.1 56 119.5C52.8 118.9 50.1 118.1 48.5 116.5C46.9 114.9 46.3 112.6 46.3 110C46.3 107.4 47.4 103.8 48.6 101C49.8 98.2 51.5 95.4 53.5 93C55.5 90.6 57.8 88.3 60.5 86.5C63.2 84.7 66.4 83.1 70 82C73.6 80.9 78.2 80 82.3 80C86.4 80 91 80.9 94.6 82C98.2 83.1 101.3 84.7 104.1 86.5C106.8 88.3 109.1 90.6 111.1 93C113.1 95.4 114.8 98.2 116 101C117.2 103.8 118.3 107.4 118.3 110C118.3 112.6 117.7 114.9 116.1 116.5C114.5 118.1 111.8 118.9 108.6 119.5C105.3 120.1 98.6 119.9 96.6 120Z" fill="#1b1b1b" filter="url(#b1_8)"/><ellipse cx="68" cy="96.5" rx="5.5" ry="2.6" fill="#2d2d2d" filter="url(#b1_3)"/><ellipse cx="96.6" cy="96.5" rx="5.5" ry="2.6" fill="#2d2d2d" filter="url(#b1_3)"/><ellipse cx="59.5" cy="107.5" rx="4" ry="3.2" fill="#262626" filter="url(#b1_3)"/><ellipse cx="105.1" cy="107.5" rx="4" ry="3.2" fill="#262626" filter="url(#b1_3)"/><ellipse cx="71" cy="87" rx="5" ry="1.8" fill="#242424" filter="url(#b1_2)"/><ellipse cx="93.6" cy="87" rx="5" ry="1.8" fill="#242424" filter="url(#b1_2)"/><path d="M63 99.5Q59 105 56.5 113" fill="none" stroke="#080808" stroke-width="1.3" stroke-linecap="round" filter="url(#b1_0)"/><path d="M63 99.5Q59 105 56.5 113" fill="none" stroke="#080808" stroke-width="1.3" stroke-linecap="round" filter="url(#b1_0)" transform="translate(164.6 0) scale(-1 1)"/><path d="M72 90Q69 96 67.5 104Q67 110 69 116" fill="none" stroke="#0a0a0a" stroke-width="1.2" stroke-linecap="round" filter="url(#b1_0)"/><path d="M72 90Q69 96 67.5 104Q67 110 69 116" fill="none" stroke="#0a0a0a" stroke-width="1.2" stroke-linecap="round" filter="url(#b1_0)" transform="translate(164.6 0) scale(-1 1)"/><path d="M53 97Q50.5 104 50.5 112" fill="none" stroke="#080808" stroke-width="1.1" stroke-linecap="round" filter="url(#b1_0)"/><path d="M53 97Q50.5 104 50.5 112" fill="none" stroke="#080808" stroke-width="1.1" stroke-linecap="round" filter="url(#b1_0)" transform="translate(164.6 0) scale(-1 1)"/><path d="M80.5 77V118" fill="none" stroke="#000000" stroke-width="1.2" stroke-linecap="round" filter="url(#b0_5)"/><path d="M84.1 77V118" fill="none" stroke="#000000" stroke-width="1.2" stroke-linecap="round" filter="url(#b0_5)"/><path d="M82.3 76.5V113" fill="none" stroke="#545454" stroke-width="0.8" stroke-linecap="round" filter="url(#b0_5)"/><path d="M78.7 100V116" fill="none" stroke="#292929" stroke-width="0.6" stroke-linecap="round" filter="url(#b0_5)"/><path d="M85.9 100V116" fill="none" stroke="#292929" stroke-width="0.6" stroke-linecap="round" filter="url(#b0_5)"/></g>
<rect x="-2" y="134.7" width="168" height="36" fill="url(#gf)" filter="url(#b0_6)"/>
</g></g>
<rect x="702" y="242.7" width="9.1" height="166.9" fill="url(#cbar)"/>
<g clip-path="url(#cpg)"><g transform="translate(29 481.2) scale(0.9976 1.0174)">
<rect x="-2" y="-2" width="168" height="171" fill="url(#gg)"/>
</g></g>
<rect x="197" y="481.2" width="8.8" height="169.8" fill="url(#cbar)"/>
<g clip-path="url(#cph)"><g transform="translate(281 478.2) scale(0.9854 1.0330)">
<rect x="-2" y="-2" width="168" height="171" fill="url(#gh)"/>
<path d="M-12 78.5C-8.3 78.5 3.3 78.6 10 78.8C16.7 79 23.2 79.1 28 79.6C32.8 80 35.7 80.4 38.5 81.5C41.3 82.6 43 84.4 45 86C47 87.6 48.5 89.5 50.2 91.2C52 92.9 53.6 94.7 55.5 96.2C57.4 97.7 59.5 99.2 61.7 100.4C63.9 101.6 66.5 102.6 68.9 103.3C71.3 104 73.8 104.4 76 104.7C78.2 105 80 105.2 82 105.2C84 105.2 85.8 105 88 104.7C90.2 104.4 92.7 104 95.1 103.3C97.5 102.6 100.1 101.6 102.3 100.4C104.5 99.2 106.6 97.7 108.5 96.2C110.4 94.7 112 92.9 113.8 91.2C115.5 89.5 117 87.6 119 86C121 84.4 122.7 82.6 125.5 81.5C128.3 80.4 131.2 80 136 79.6C140.8 79.1 147.3 79 154 78.8C160.7 78.6 172.3 78.5 176 78.5L176 75L-12 75Z" fill="#4e4e4e" filter="url(#b2_0)"/>
<ellipse cx="38.8" cy="69.3" rx="6.5" ry="8" fill="#525252" filter="url(#b2_2)"/>
<ellipse cx="125.2" cy="69.3" rx="6.5" ry="8" fill="#525252" filter="url(#b2_2)"/>
<path d="M33 72C30.6 74 29.9 81.7 32 84C34.1 86.3 43.1 88 45.5 86C47.9 84 48.6 74.3 46.5 72C44.4 69.7 35.4 70 33 72Z" fill="#535353" filter="url(#b2_0)"/>
<path d="M33 72C30.6 74 29.9 81.7 32 84C34.1 86.3 43.1 88 45.5 86C47.9 84 48.6 74.3 46.5 72C44.4 69.7 35.4 70 33 72Z" fill="#535353" filter="url(#b2_0)" transform="translate(164 0) scale(-1 1)"/>
<path d="M51.5 58C48.2 60.2 51.5 67.6 52.5 71C53.5 74.4 55.5 76.8 57.5 78.5C59.5 80.2 62.4 81.5 64.5 81.5C66.6 81.5 68.8 80.6 70 78.5C71.2 76.4 71.6 72.4 72 69C72.4 65.6 75.9 59.8 72.5 58C69.1 56.2 54.8 55.8 51.5 58Z" fill="#4b4b4b" filter="url(#b1_8)"/>
<path d="M51.5 58C48.2 60.2 51.5 67.6 52.5 71C53.5 74.4 55.5 76.8 57.5 78.5C59.5 80.2 62.4 81.5 64.5 81.5C66.6 81.5 68.8 80.6 70 78.5C71.2 76.4 71.6 72.4 72 69C72.4 65.6 75.9 59.8 72.5 58C69.1 56.2 54.8 55.8 51.5 58Z" fill="#4b4b4b" filter="url(#b1_8)" transform="translate(164 0) scale(-1 1)"/>
<path d="M82 64.5C81.4 64.5 81 67.9 80.2 70C79.4 72.1 78.1 74.7 77 77C75.9 79.3 74.3 81.9 73.6 84C72.9 86.1 72.4 87.9 72.6 89.5C72.8 91.1 73.4 92.5 74.6 93.8C75.8 95 78.6 95.7 79.6 97C80.6 98.3 80.3 100 80.5 101.5C80.7 103 80.2 105.5 80.7 106.3C81.2 107.1 82.8 107.1 83.3 106.3C83.8 105.5 83.3 103 83.5 101.5C83.7 100 83.4 98.3 84.4 97C85.4 95.7 88.2 95 89.4 93.8C90.6 92.5 91.2 91.1 91.4 89.5C91.6 87.9 91.1 86.1 90.4 84C89.7 81.9 88.1 79.3 87 77C85.9 74.7 84.6 72.1 83.8 70C83 67.9 82.6 64.5 82 64.5Z" fill="#5e5e5e" filter="url(#b1_5)" transform="translate(16.4 0) scale(0.8 1)"/>
<path d="M82 76.5C81.2 76.5 80.3 79.4 79.6 81C78.9 82.6 78.1 84.4 77.8 86C77.5 87.6 77.3 89.2 77.6 90.5C77.9 91.8 79 92.7 79.6 93.8C80.2 94.9 81 95.2 81.3 97C81.6 98.8 81.3 103.5 81.5 104.8C81.7 106.1 82.3 106.1 82.5 104.8C82.7 103.5 82.4 98.8 82.7 97C83 95.2 83.8 94.9 84.4 93.8C85 92.7 86.1 91.8 86.4 90.5C86.7 89.2 86.5 87.6 86.2 86C85.9 84.4 85.1 82.6 84.4 81C83.7 79.4 82.8 76.5 82 76.5Z" fill="#656565" filter="url(#b1_1)" transform="translate(16.4 0) scale(0.8 1)"/>
<path d="M50.9 134.5C52.5 133.9 57.2 131.8 60.5 130.7C63.7 129.7 66.9 128.9 70.5 128.4C74.1 127.8 78.2 127.2 82 127.2C85.8 127.2 89.9 127.8 93.4 128.4C97 128.9 100.2 129.7 103.5 130.7C106.8 131.8 111.5 133.9 113.1 134.5Z" fill="#b8b8b8" filter="url(#b1_4)" transform="translate(0 -4.2)" opacity="0.3"/>
</g></g>
<rect x="446.9" y="478.2" width="8.9" height="172.4" fill="url(#cbar)"/>
<g clip-path="url(#cpi)"><g transform="translate(533.1 478.2) scale(0.9793 1.0330)">
<rect x="-2" y="-2" width="168" height="171" fill="url(#gi)"/>
<path d="M8.7 68.3C9.7 68.7 11.3 74.6 12 78.4C12.7 82.2 13.4 87 13 91C12.7 95 11.6 100.4 10 102.3C8.5 104.2 4.6 104.6 3.7 102.3C2.8 100 4 92.9 4.5 88.5C4.9 84 5.5 79.2 6.2 75.9C6.9 72.5 7.8 67.9 8.7 68.3Z" fill="#585858" filter="url(#b2_4)"/>
<path d="M8.7 68.3C9.7 68.7 11.3 74.6 12 78.4C12.7 82.2 13.4 87 13 91C12.7 95 11.6 100.4 10 102.3C8.5 104.2 4.6 104.6 3.7 102.3C2.8 100 4 92.9 4.5 88.5C4.9 84 5.5 79.2 6.2 75.9C6.9 72.5 7.8 67.9 8.7 68.3Z" fill="#585858" filter="url(#b2_4)" transform="translate(164.6 0) scale(-1 1)"/>
<path d="M32.7 66.5C33.8 67 36 72.2 36.7 75.9C37.4 79.5 37.4 84.7 36.7 88.5C36 92.2 34.3 97.1 32.7 98.5C31.1 100 27.9 99.8 27.1 97.3C26.4 94.7 27.6 87.4 28.1 83.4C28.6 79.4 29.4 76.2 30.1 73.3C30.9 70.5 31.6 66.1 32.7 66.5Z" fill="#5b5b5b" filter="url(#b2_2)"/>
<path d="M32.7 66.5C33.8 67 36 72.2 36.7 75.9C37.4 79.5 37.4 84.7 36.7 88.5C36 92.2 34.3 97.1 32.7 98.5C31.1 100 27.9 99.8 27.1 97.3C26.4 94.7 27.6 87.4 28.1 83.4C28.6 79.4 29.4 76.2 30.1 73.3C30.9 70.5 31.6 66.1 32.7 66.5Z" fill="#5b5b5b" filter="url(#b2_2)" transform="translate(164.6 0) scale(-1 1)"/>
<path d="M25.5 105C25.9 104.3 26.8 102.5 28 100.8C29.2 99.1 31.1 96.8 32.9 94.6C34.7 92.4 36.7 89.8 38.6 87.6C40.5 85.4 42.6 83.1 44.3 81.4C46 79.7 47.2 78 49 77.2C50.8 76.4 51.8 77.4 55 76.8C58.2 76.2 64.3 74.5 68.2 73.7C72.1 73 76.1 72.6 78.4 72.3C80.8 72 81 71.8 82.3 71.8C83.6 71.8 83.8 72 86.2 72.3C88.5 72.6 92.5 73 96.4 73.7C100.3 74.5 106.4 76.2 109.6 76.8C112.8 77.4 113.8 76.4 115.6 77.2C117.4 78 118.6 79.7 120.3 81.4C122 83.1 124.1 85.4 126 87.6C127.9 89.8 129.9 92.4 131.7 94.6C133.5 96.8 135.4 99.1 136.6 100.8C137.8 102.5 138.7 104.3 139.1 105Z" fill="#626262" filter="url(#b2_6)"/>
<path d="M32 110.5C32.4 109.2 33.2 105.3 34.5 102.4C35.8 99.5 37.7 96.2 39.7 93.3C41.7 90.4 43.9 87.3 46.5 84.9C49.1 82.5 52 80.4 55.6 78.7C59.2 77 64.4 75.8 68.2 74.9C72 74 76.1 73.6 78.4 73.2C80.8 72.8 81 72.7 82.3 72.7C83.6 72.7 83.8 72.8 86.2 73.2C88.5 73.6 92.6 74 96.4 74.9C100.2 75.8 105.4 77 109 78.7C112.6 80.4 115.4 82.5 118.1 84.9C120.8 87.3 122.9 90.4 124.9 93.3C126.9 96.2 128.8 99.5 130.1 102.4C131.4 105.3 132.2 109.2 132.6 110.5Z" fill="#696969" filter="url(#b1_8)"/>
<path d="M28 133.8C30 133.6 36.8 133 40 132.4C43.2 131.8 45.9 131.1 47.5 130.2C49.1 129.3 49.9 128 49.8 127C49.7 126 48.5 125.2 47 124.2C45.5 123.2 42.6 122.4 41 121.3C39.4 120.2 38.3 119 37.5 117.5C36.7 116 36.3 114.5 36.4 112C36.5 109.5 37 105.7 38 102.6C39 99.5 40.8 96.2 42.6 93.5C44.4 90.8 46.4 88.3 48.8 86.1C51.2 83.9 53.6 82.1 56.8 80.4C60 78.7 64.6 77.2 68.2 76.1C71.8 75 76.1 74.4 78.4 74C80.8 73.6 81 73.5 82.3 73.5C83.6 73.5 83.8 73.6 86.2 74C88.5 74.4 92.8 75 96.4 76.1C100 77.2 104.6 78.7 107.8 80.4C111 82.1 113.4 83.9 115.8 86.1C118.2 88.3 120.2 90.8 122 93.5C123.8 96.2 125.6 99.5 126.6 102.6C127.6 105.7 128.1 109.5 128.2 112C128.3 114.5 127.9 116 127.1 117.5C126.3 119 125.2 120.2 123.6 121.3C122 122.4 119.1 123.2 117.6 124.2C116.1 125.2 114.9 126 114.8 127C114.7 128 115.5 129.3 117.1 130.2C118.7 131.1 121.3 131.8 124.6 132.4C127.8 133 134.6 133.6 136.6 133.8Z" fill="#6e6e6e" filter="url(#b1_3)"/>
<path d="M26 134.5C27.9 134.3 33.9 133.9 37.3 133.5C40.7 133.1 43.8 132.6 46.2 131.9C48.6 131.2 50.6 130.2 51.6 129.2C52.6 128.1 52.7 126.8 52.2 125.6C51.7 124.4 50.4 123.2 48.8 122.1C47.2 121 44.1 120 42.6 118.9C41.1 117.8 40.5 116.8 39.9 115.6C39.3 114.4 38.9 114 39.1 111.9C39.3 109.8 39.9 105.7 40.9 102.8C41.9 99.9 43.7 97.3 45.4 94.8C47.1 92.3 48.8 90.1 51.1 88C53.4 85.9 56.1 83.9 59 82.3C61.9 80.7 65 79.3 68.2 78.3C71.4 77.2 76.1 76.5 78.4 76C80.8 75.5 81 75.6 82.3 75.6C83.6 75.6 83.8 75.5 86.2 76C88.5 76.5 93.2 77.2 96.4 78.3C99.6 79.3 102.8 80.7 105.6 82.3C108.4 83.9 111.2 85.9 113.5 88C115.8 90.1 117.5 92.3 119.2 94.8C120.9 97.3 122.6 99.9 123.7 102.8C124.7 105.7 125.3 109.8 125.5 111.9C125.7 114 125.3 114.4 124.7 115.6C124.1 116.8 123.5 117.8 122 118.9C120.5 120 117.4 121 115.8 122.1C114.2 123.2 112.9 124.4 112.4 125.6C111.9 126.8 112 128.1 113 129.2C114 130.2 116 131.2 118.4 131.9C120.8 132.6 123.9 133.1 127.3 133.5C130.7 133.9 136.7 134.3 138.6 134.5Z" fill="url(#gid)" filter="url(#b1_2)"/>
<path d="M26 134.5C27.9 134.3 33.9 133.9 37.3 133.5C40.7 133.1 43.8 132.6 46.2 131.9C48.6 131.2 50.6 130.2 51.6 129.2C52.6 128.1 52.7 126.8 52.2 125.6C51.7 124.4 50.4 123.2 48.8 122.1C47.2 121 44.1 120 42.6 118.9C41.1 117.8 40.5 116.8 39.9 115.6C39.3 114.4 38.9 114 39.1 111.9C39.3 109.8 39.9 105.7 40.9 102.8C41.9 99.9 43.7 97.3 45.4 94.8C47.1 92.3 48.8 90.1 51.1 88C53.4 85.9 56.1 83.9 59 82.3C61.9 80.7 65 79.3 68.2 78.3C71.4 77.2 76.1 76.5 78.4 76C80.8 75.5 81 75.6 82.3 75.6C83.6 75.6 83.8 75.5 86.2 76C88.5 76.5 93.2 77.2 96.4 78.3C99.6 79.3 102.8 80.7 105.6 82.3C108.4 83.9 111.2 85.9 113.5 88C115.8 90.1 117.5 92.3 119.2 94.8C120.9 97.3 122.6 99.9 123.7 102.8C124.7 105.7 125.3 109.8 125.5 111.9C125.7 114 125.3 114.4 124.7 115.6C124.1 116.8 123.5 117.8 122 118.9C120.5 120 117.4 121 115.8 122.1C114.2 123.2 112.9 124.4 112.4 125.6C111.9 126.8 112 128.1 113 129.2C114 130.2 116 131.2 118.4 131.9C120.8 132.6 123.9 133.1 127.3 133.5C130.7 133.9 136.7 134.3 138.6 134.5Z" fill="none" stroke="#808080" stroke-width="0.7" stroke-linecap="round" filter="url(#b0_6)" opacity="0.55"/>
<g clip-path="url(#cfd)"><path d="M82.3 78V112" fill="none" stroke="#8f8f8f" stroke-width="0.8" stroke-linecap="round" filter="url(#b0_7)" opacity="0.7"/></g>
<rect x="-2" y="106" width="168" height="64" fill="url(#gi2)"/>
<ellipse cx="41" cy="114.5" rx="13" ry="3.6" fill="#939393" filter="url(#b2_0)"/>
<ellipse cx="123.6" cy="114.5" rx="13" ry="3.6" fill="#939393" filter="url(#b2_0)"/>
<ellipse cx="82.3" cy="127.6" rx="25" ry="2" fill="#a2a2a2" filter="url(#b1_3)"/>
</g></g>
<rect x="698.2" y="478.2" width="8.9" height="172.4" fill="url(#cbar)"/>
</g>
<g filter="url(#soft)"><rect x="29" y="10.2" width="163.9" height="166.8" fill="none" stroke="#262626" stroke-width="0.5" stroke-opacity="0.55"/><rect x="197.1" y="10.2" width="9.2" height="166.8" fill="none" stroke="#262626" stroke-width="0.5" stroke-opacity="0.45"/><path d="M29 176.5H192.9" stroke="#262626" stroke-width="1" stroke-opacity="0.6" fill="none"/><text transform="translate(26 15.9) scale(0.97 1.27)" text-anchor="end">80</text><text transform="translate(26 48.8) scale(0.97 1.27)" text-anchor="end">60</text><text transform="translate(26 81.7) scale(0.97 1.27)" text-anchor="end">40</text><text transform="translate(26 114.6) scale(0.97 1.27)" text-anchor="end">20</text><text transform="translate(26 147.5) scale(0.97 1.27)" text-anchor="end">0</text><text transform="translate(26 180.3) scale(0.97 1.27)" text-anchor="end">-20</text><text transform="translate(40.4 190.2) scale(0.97 1.27)" text-anchor="middle">-60</text><text transform="translate(63.7 190.2) scale(0.97 1.27)" text-anchor="middle">-40</text><text transform="translate(87.1 190.2) scale(0.97 1.27)" text-anchor="middle">-20</text><text transform="translate(110.4 190.2) scale(0.97 1.27)" text-anchor="middle">0</text><text transform="translate(133.7 190.2) scale(0.97 1.27)" text-anchor="middle">20</text><text transform="translate(157.1 190.2) scale(0.97 1.27)" text-anchor="middle">40</text><text transform="translate(180.4 190.2) scale(0.97 1.27)" text-anchor="middle">60</text><path d="M29 13h1.7M192.9 13h-1.7M29 45.9h1.7M192.9 45.9h-1.7M29 78.8h1.7M192.9 78.8h-1.7M29 111.6h1.7M192.9 111.6h-1.7M29 144.5h1.7M192.9 144.5h-1.7M40.6 177v-1.7M40.6 10.2v1.7M63.9 177v-1.7M63.9 10.2v1.7M87.3 177v-1.7M87.3 10.2v1.7M110.6 177v-1.7M110.6 10.2v1.7M133.9 177v-1.7M133.9 10.2v1.7M157.3 177v-1.7M157.3 10.2v1.7M180.6 177v-1.7M180.6 10.2v1.7" stroke="#262626" stroke-width="0.5" stroke-opacity="0.7" fill="none"/><text transform="translate(209.2 14.5) scale(0.95 1.24)" font-size="7.6">10<tspan dy="-3.5" dx="-0.1" font-size="5.7">4</tspan></text><text transform="translate(209.2 47.9) scale(0.95 1.24)" font-size="7.6">10<tspan dy="-3.5" dx="-0.1" font-size="5.7">3</tspan></text><text transform="translate(209.2 81.2) scale(0.95 1.24)" font-size="7.6">10<tspan dy="-3.5" dx="-0.1" font-size="5.7">2</tspan></text><text transform="translate(209.2 114.6) scale(0.95 1.24)" font-size="7.6">10<tspan dy="-3.5" dx="-0.1" font-size="5.7">1</tspan></text><text transform="translate(209.2 147.9) scale(0.95 1.24)" font-size="7.6">10<tspan dy="-3.5" dx="-0.1" font-size="5.7">0</tspan></text><text transform="translate(209.2 181.3) scale(0.95 1.24)" font-size="7.6">10<tspan dy="-3.5" dx="-0.1" font-size="5.7">-1</tspan></text><path d="M197.1 43.6h1.2M206.3 43.6h-1.2M197.1 76.9h1.2M206.3 76.9h-1.2M197.1 110.3h1.2M206.3 110.3h-1.2M197.1 143.6h1.2M206.3 143.6h-1.2" stroke="#262626" stroke-width="0.4" stroke-opacity="0.6" fill="none"/><text class="m" x="111.5" y="203.8" text-anchor="middle">x</text><text class="m" transform="translate(11.8 88.7) rotate(-90)" text-anchor="middle" font-size="18.5">z</text><text class="c" x="113.9" y="228.3" text-anchor="middle">(<tspan font-weight="bold">a</tspan>)</text></g>
<g filter="url(#soft)"><rect x="281" y="10.2" width="164" height="166.8" fill="none" stroke="#262626" stroke-width="0.5" stroke-opacity="0.55"/><rect x="449.2" y="10.2" width="8.9" height="166.8" fill="none" stroke="#262626" stroke-width="0.5" stroke-opacity="0.45"/><path d="M281 176.5H445" stroke="#262626" stroke-width="1" stroke-opacity="0.6" fill="none"/><text transform="translate(278 15.9) scale(0.97 1.27)" text-anchor="end">80</text><text transform="translate(278 48.8) scale(0.97 1.27)" text-anchor="end">60</text><text transform="translate(278 81.7) scale(0.97 1.27)" text-anchor="end">40</text><text transform="translate(278 114.6) scale(0.97 1.27)" text-anchor="end">20</text><text transform="translate(278 147.5) scale(0.97 1.27)" text-anchor="end">0</text><text transform="translate(278 180.3) scale(0.97 1.27)" text-anchor="end">-20</text><text transform="translate(292.3 190.2) scale(0.97 1.27)" text-anchor="middle">-60</text><text transform="translate(315.8 190.2) scale(0.97 1.27)" text-anchor="middle">-40</text><text transform="translate(339.2 190.2) scale(0.97 1.27)" text-anchor="middle">-20</text><text transform="translate(362.7 190.2) scale(0.97 1.27)" text-anchor="middle">0</text><text transform="translate(386.2 190.2) scale(0.97 1.27)" text-anchor="middle">20</text><text transform="translate(409.6 190.2) scale(0.97 1.27)" text-anchor="middle">40</text><text transform="translate(433.1 190.2) scale(0.97 1.27)" text-anchor="middle">60</text><path d="M281 13h1.7M445 13h-1.7M281 45.9h1.7M445 45.9h-1.7M281 78.8h1.7M445 78.8h-1.7M281 111.6h1.7M445 111.6h-1.7M281 144.5h1.7M445 144.5h-1.7M292.5 177v-1.7M292.5 10.2v1.7M316 177v-1.7M316 10.2v1.7M339.4 177v-1.7M339.4 10.2v1.7M362.9 177v-1.7M362.9 10.2v1.7M386.4 177v-1.7M386.4 10.2v1.7M409.8 177v-1.7M409.8 10.2v1.7M433.3 177v-1.7M433.3 10.2v1.7" stroke="#262626" stroke-width="0.5" stroke-opacity="0.7" fill="none"/><text transform="translate(461 14.5) scale(0.95 1.24)" font-size="7.6">10<tspan dy="-3.5" dx="-0.1" font-size="5.7">4</tspan></text><text transform="translate(461 47.9) scale(0.95 1.24)" font-size="7.6">10<tspan dy="-3.5" dx="-0.1" font-size="5.7">3</tspan></text><text transform="translate(461 81.2) scale(0.95 1.24)" font-size="7.6">10<tspan dy="-3.5" dx="-0.1" font-size="5.7">2</tspan></text><text transform="translate(461 114.6) scale(0.95 1.24)" font-size="7.6">10<tspan dy="-3.5" dx="-0.1" font-size="5.7">1</tspan></text><text transform="translate(461 147.9) scale(0.95 1.24)" font-size="7.6">10<tspan dy="-3.5" dx="-0.1" font-size="5.7">0</tspan></text><text transform="translate(461 181.3) scale(0.95 1.24)" font-size="7.6">10<tspan dy="-3.5" dx="-0.1" font-size="5.7">-1</tspan></text><path d="M449.2 43.6h1.2M458.1 43.6h-1.2M449.2 76.9h1.2M458.1 76.9h-1.2M449.2 110.3h1.2M458.1 110.3h-1.2M449.2 143.6h1.2M458.1 143.6h-1.2" stroke="#262626" stroke-width="0.4" stroke-opacity="0.6" fill="none"/><text class="m" x="363.8" y="203.8" text-anchor="middle">x</text><text class="m" transform="translate(263.8 88.7) rotate(-90)" text-anchor="middle" font-size="18.5">z</text><text class="c" x="365.3" y="228.3" text-anchor="middle">(<tspan font-weight="bold">b</tspan>)</text></g>
<g filter="url(#soft)"><rect x="533.1" y="10" width="164.6" height="167" fill="none" stroke="#262626" stroke-width="0.5" stroke-opacity="0.55"/><rect x="702" y="10" width="9.1" height="167" fill="none" stroke="#262626" stroke-width="0.5" stroke-opacity="0.45"/><path d="M533.1 176.5H697.7" stroke="#262626" stroke-width="1" stroke-opacity="0.6" fill="none"/><text transform="translate(530.1 15.9) scale(0.97 1.27)" text-anchor="end">80</text><text transform="translate(530.1 48.8) scale(0.97 1.27)" text-anchor="end">60</text><text transform="translate(530.1 81.7) scale(0.97 1.27)" text-anchor="end">40</text><text transform="translate(530.1 114.6) scale(0.97 1.27)" text-anchor="end">20</text><text transform="translate(530.1 147.5) scale(0.97 1.27)" text-anchor="end">0</text><text transform="translate(530.1 180.3) scale(0.97 1.27)" text-anchor="end">-20</text><text transform="translate(544.8 190.2) scale(0.97 1.27)" text-anchor="middle">-60</text><text transform="translate(568.2 190.2) scale(0.97 1.27)" text-anchor="middle">-40</text><text transform="translate(591.7 190.2) scale(0.97 1.27)" text-anchor="middle">-20</text><text transform="translate(615.1 190.2) scale(0.97 1.27)" text-anchor="middle">0</text><text transform="translate(638.5 190.2) scale(0.97 1.27)" text-anchor="middle">20</text><text transform="translate(662 190.2) scale(0.97 1.27)" text-anchor="middle">40</text><text transform="translate(685.4 190.2) scale(0.97 1.27)" text-anchor="middle">60</text><path d="M533.1 13h1.7M697.7 13h-1.7M533.1 45.9h1.7M697.7 45.9h-1.7M533.1 78.8h1.7M697.7 78.8h-1.7M533.1 111.6h1.7M697.7 111.6h-1.7M533.1 144.5h1.7M697.7 144.5h-1.7M545 177v-1.7M545 10v1.7M568.4 177v-1.7M568.4 10v1.7M591.9 177v-1.7M591.9 10v1.7M615.3 177v-1.7M615.3 10v1.7M638.7 177v-1.7M638.7 10v1.7M662.2 177v-1.7M662.2 10v1.7M685.6 177v-1.7M685.6 10v1.7" stroke="#262626" stroke-width="0.5" stroke-opacity="0.7" fill="none"/><text transform="translate(714 14.3) scale(0.95 1.24)" font-size="7.6">10<tspan dy="-3.5" dx="-0.1" font-size="5.7">4</tspan></text><text transform="translate(714 47.7) scale(0.95 1.24)" font-size="7.6">10<tspan dy="-3.5" dx="-0.1" font-size="5.7">3</tspan></text><text transform="translate(714 81.1) scale(0.95 1.24)" font-size="7.6">10<tspan dy="-3.5" dx="-0.1" font-size="5.7">2</tspan></text><text transform="translate(714 114.5) scale(0.95 1.24)" font-size="7.6">10<tspan dy="-3.5" dx="-0.1" font-size="5.7">1</tspan></text><text transform="translate(714 147.9) scale(0.95 1.24)" font-size="7.6">10<tspan dy="-3.5" dx="-0.1" font-size="5.7">0</tspan></text><text transform="translate(714 181.3) scale(0.95 1.24)" font-size="7.6">10<tspan dy="-3.5" dx="-0.1" font-size="5.7">-1</tspan></text><path d="M702 43.4h1.2M711.1 43.4h-1.2M702 76.8h1.2M711.1 76.8h-1.2M702 110.2h1.2M711.1 110.2h-1.2M702 143.6h1.2M711.1 143.6h-1.2" stroke="#262626" stroke-width="0.4" stroke-opacity="0.6" fill="none"/><text class="m" x="616.2" y="203.8" text-anchor="middle">x</text><text class="m" transform="translate(515.8 88.7) rotate(-90)" text-anchor="middle" font-size="18.5">z</text><text class="c" x="617.7" y="228.3" text-anchor="middle">(<tspan font-weight="bold">c</tspan>)</text></g>
<g filter="url(#soft)"><rect x="29" y="242.7" width="163.9" height="166.9" fill="none" stroke="#262626" stroke-width="0.5" stroke-opacity="0.55"/><rect x="197.1" y="242.7" width="9.2" height="166.9" fill="none" stroke="#262626" stroke-width="0.5" stroke-opacity="0.45"/><path d="M29 409.1H192.9" stroke="#262626" stroke-width="1" stroke-opacity="0.6" fill="none"/><text transform="translate(26 248.3) scale(0.97 1.27)" text-anchor="end">80</text><text transform="translate(26 281.2) scale(0.97 1.27)" text-anchor="end">60</text><text transform="translate(26 314) scale(0.97 1.27)" text-anchor="end">40</text><text transform="translate(26 346.8) scale(0.97 1.27)" text-anchor="end">20</text><text transform="translate(26 379.6) scale(0.97 1.27)" text-anchor="end">0</text><text transform="translate(26 412.4) scale(0.97 1.27)" text-anchor="end">-20</text><text transform="translate(40.4 422.1) scale(0.97 1.27)" text-anchor="middle">-60</text><text transform="translate(63.7 422.1) scale(0.97 1.27)" text-anchor="middle">-40</text><text transform="translate(87.1 422.1) scale(0.97 1.27)" text-anchor="middle">-20</text><text transform="translate(110.4 422.1) scale(0.97 1.27)" text-anchor="middle">0</text><text transform="translate(133.7 422.1) scale(0.97 1.27)" text-anchor="middle">20</text><text transform="translate(157.1 422.1) scale(0.97 1.27)" text-anchor="middle">40</text><text transform="translate(180.4 422.1) scale(0.97 1.27)" text-anchor="middle">60</text><path d="M29 245.4h1.7M192.9 245.4h-1.7M29 278.2h1.7M192.9 278.2h-1.7M29 311h1.7M192.9 311h-1.7M29 343.9h1.7M192.9 343.9h-1.7M29 376.7h1.7M192.9 376.7h-1.7M40.6 409.6v-1.7M40.6 242.7v1.7M63.9 409.6v-1.7M63.9 242.7v1.7M87.3 409.6v-1.7M87.3 242.7v1.7M110.6 409.6v-1.7M110.6 242.7v1.7M133.9 409.6v-1.7M133.9 242.7v1.7M157.3 409.6v-1.7M157.3 242.7v1.7M180.6 409.6v-1.7M180.6 242.7v1.7" stroke="#262626" stroke-width="0.5" stroke-opacity="0.7" fill="none"/><text transform="translate(209.2 247) scale(0.95 1.24)" font-size="7.6">10<tspan dy="-3.5" dx="-0.1" font-size="5.7">6</tspan></text><text transform="translate(209.2 302.6) scale(0.95 1.24)" font-size="7.6">10<tspan dy="-3.5" dx="-0.1" font-size="5.7">5</tspan></text><text transform="translate(209.2 358.3) scale(0.95 1.24)" font-size="7.6">10<tspan dy="-3.5" dx="-0.1" font-size="5.7">4</tspan></text><text transform="translate(209.2 413.9) scale(0.95 1.24)" font-size="7.6">10<tspan dy="-3.5" dx="-0.1" font-size="5.7">3</tspan></text><path d="M197.1 298.3h1.2M206.3 298.3h-1.2M197.1 354h1.2M206.3 354h-1.2" stroke="#262626" stroke-width="0.4" stroke-opacity="0.6" fill="none"/><text class="m" x="111.5" y="436.4" text-anchor="middle">x</text><text class="m" transform="translate(11.8 320.9) rotate(-90)" text-anchor="middle" font-size="18.5">z</text><text class="c" x="113.9" y="460.2" text-anchor="middle">(<tspan font-weight="bold">d</tspan>)</text></g>
<g filter="url(#soft)"><rect x="281" y="242.7" width="164" height="166.9" fill="none" stroke="#262626" stroke-width="0.5" stroke-opacity="0.55"/><rect x="449.2" y="242.7" width="8.9" height="166.9" fill="none" stroke="#262626" stroke-width="0.5" stroke-opacity="0.45"/><path d="M281 409.1H445" stroke="#262626" stroke-width="1" stroke-opacity="0.6" fill="none"/><text transform="translate(278 248.3) scale(0.97 1.27)" text-anchor="end">80</text><text transform="translate(278 281.2) scale(0.97 1.27)" text-anchor="end">60</text><text transform="translate(278 314) scale(0.97 1.27)" text-anchor="end">40</text><text transform="translate(278 346.8) scale(0.97 1.27)" text-anchor="end">20</text><text transform="translate(278 379.6) scale(0.97 1.27)" text-anchor="end">0</text><text transform="translate(278 412.4) scale(0.97 1.27)" text-anchor="end">-20</text><text transform="translate(292.3 422.1) scale(0.97 1.27)" text-anchor="middle">-60</text><text transform="translate(315.8 422.1) scale(0.97 1.27)" text-anchor="middle">-40</text><text transform="translate(339.2 422.1) scale(0.97 1.27)" text-anchor="middle">-20</text><text transform="translate(362.7 422.1) scale(0.97 1.27)" text-anchor="middle">0</text><text transform="translate(386.2 422.1) scale(0.97 1.27)" text-anchor="middle">20</text><text transform="translate(409.6 422.1) scale(0.97 1.27)" text-anchor="middle">40</text><text transform="translate(433.1 422.1) scale(0.97 1.27)" text-anchor="middle">60</text><path d="M281 245.4h1.7M445 245.4h-1.7M281 278.2h1.7M445 278.2h-1.7M281 311h1.7M445 311h-1.7M281 343.9h1.7M445 343.9h-1.7M281 376.7h1.7M445 376.7h-1.7M292.5 409.6v-1.7M292.5 242.7v1.7M316 409.6v-1.7M316 242.7v1.7M339.4 409.6v-1.7M339.4 242.7v1.7M362.9 409.6v-1.7M362.9 242.7v1.7M386.4 409.6v-1.7M386.4 242.7v1.7M409.8 409.6v-1.7M409.8 242.7v1.7M433.3 409.6v-1.7M433.3 242.7v1.7" stroke="#262626" stroke-width="0.5" stroke-opacity="0.7" fill="none"/><text transform="translate(461 247) scale(0.95 1.24)" font-size="7.6">10<tspan dy="-3.5" dx="-0.1" font-size="5.7">6</tspan></text><text transform="translate(461 302.6) scale(0.95 1.24)" font-size="7.6">10<tspan dy="-3.5" dx="-0.1" font-size="5.7">5</tspan></text><text transform="translate(461 358.3) scale(0.95 1.24)" font-size="7.6">10<tspan dy="-3.5" dx="-0.1" font-size="5.7">4</tspan></text><text transform="translate(461 413.9) scale(0.95 1.24)" font-size="7.6">10<tspan dy="-3.5" dx="-0.1" font-size="5.7">3</tspan></text><path d="M449.2 298.3h1.2M458.1 298.3h-1.2M449.2 354h1.2M458.1 354h-1.2" stroke="#262626" stroke-width="0.4" stroke-opacity="0.6" fill="none"/><text class="m" x="363.8" y="436.4" text-anchor="middle">x</text><text class="m" transform="translate(263.8 320.9) rotate(-90)" text-anchor="middle" font-size="18.5">z</text><text class="c" x="365.3" y="460.2" text-anchor="middle">(<tspan font-weight="bold">e</tspan>)</text></g>
<g filter="url(#soft)"><rect x="533.1" y="242.7" width="164.6" height="166.9" fill="none" stroke="#262626" stroke-width="0.5" stroke-opacity="0.55"/><rect x="702" y="242.7" width="9.1" height="166.9" fill="none" stroke="#262626" stroke-width="0.5" stroke-opacity="0.45"/><path d="M533.1 409.1H697.7" stroke="#262626" stroke-width="1" stroke-opacity="0.6" fill="none"/><text transform="translate(530.1 248.3) scale(0.97 1.27)" text-anchor="end">80</text><text transform="translate(530.1 281.2) scale(0.97 1.27)" text-anchor="end">60</text><text transform="translate(530.1 314) scale(0.97 1.27)" text-anchor="end">40</text><text transform="translate(530.1 346.8) scale(0.97 1.27)" text-anchor="end">20</text><text transform="translate(530.1 379.6) scale(0.97 1.27)" text-anchor="end">0</text><text transform="translate(530.1 412.4) scale(0.97 1.27)" text-anchor="end">-20</text><text transform="translate(544.8 422.1) scale(0.97 1.27)" text-anchor="middle">-60</text><text transform="translate(568.2 422.1) scale(0.97 1.27)" text-anchor="middle">-40</text><text transform="translate(591.7 422.1) scale(0.97 1.27)" text-anchor="middle">-20</text><text transform="translate(615.1 422.1) scale(0.97 1.27)" text-anchor="middle">0</text><text transform="translate(638.5 422.1) scale(0.97 1.27)" text-anchor="middle">20</text><text transform="translate(662 422.1) scale(0.97 1.27)" text-anchor="middle">40</text><text transform="translate(685.4 422.1) scale(0.97 1.27)" text-anchor="middle">60</text><path d="M533.1 245.4h1.7M697.7 245.4h-1.7M533.1 278.2h1.7M697.7 278.2h-1.7M533.1 311h1.7M697.7 311h-1.7M533.1 343.9h1.7M697.7 343.9h-1.7M533.1 376.7h1.7M697.7 376.7h-1.7M545 409.6v-1.7M545 242.7v1.7M568.4 409.6v-1.7M568.4 242.7v1.7M591.9 409.6v-1.7M591.9 242.7v1.7M615.3 409.6v-1.7M615.3 242.7v1.7M638.7 409.6v-1.7M638.7 242.7v1.7M662.2 409.6v-1.7M662.2 242.7v1.7M685.6 409.6v-1.7M685.6 242.7v1.7" stroke="#262626" stroke-width="0.5" stroke-opacity="0.7" fill="none"/><text transform="translate(714 247) scale(0.95 1.24)" font-size="7.6">10<tspan dy="-3.5" dx="-0.1" font-size="5.7">6</tspan></text><text transform="translate(714 302.6) scale(0.95 1.24)" font-size="7.6">10<tspan dy="-3.5" dx="-0.1" font-size="5.7">5</tspan></text><text transform="translate(714 358.3) scale(0.95 1.24)" font-size="7.6">10<tspan dy="-3.5" dx="-0.1" font-size="5.7">4</tspan></text><text transform="translate(714 413.9) scale(0.95 1.24)" font-size="7.6">10<tspan dy="-3.5" dx="-0.1" font-size="5.7">3</tspan></text><path d="M702 298.3h1.2M711.1 298.3h-1.2M702 354h1.2M711.1 354h-1.2" stroke="#262626" stroke-width="0.4" stroke-opacity="0.6" fill="none"/><text class="m" x="616.2" y="436.4" text-anchor="middle">x</text><text class="m" transform="translate(515.8 320.9) rotate(-90)" text-anchor="middle" font-size="18.5">z</text><text class="c" x="617.7" y="460.2" text-anchor="middle">(<tspan font-weight="bold">f</tspan>)</text></g>
<g><rect x="29" y="481.2" width="163.6" height="169.8" fill="none" stroke="#262626" stroke-width="0.5" stroke-opacity="0.55"/><rect x="197" y="481.2" width="8.8" height="169.8" fill="none" stroke="#262626" stroke-width="0.5" stroke-opacity="0.45"/><path d="M29 650.5H192.6" stroke="#262626" stroke-width="1" stroke-opacity="0.6" fill="none"/><text transform="translate(26.1 486.4) scale(0.94 1.06)" text-anchor="end" font-size="7.6">80</text><text transform="translate(26.1 519.9) scale(0.94 1.06)" text-anchor="end" font-size="7.6">60</text><text transform="translate(26.1 553.5) scale(0.94 1.06)" text-anchor="end" font-size="7.6">40</text><text transform="translate(26.1 587.1) scale(0.94 1.06)" text-anchor="end" font-size="7.6">20</text><text transform="translate(26.1 620.7) scale(0.94 1.06)" text-anchor="end" font-size="7.6">0</text><text transform="translate(26.1 654.2) scale(0.94 1.06)" text-anchor="end" font-size="7.6">-20</text><text transform="translate(40.8 662.4) scale(0.94 1.06)" text-anchor="middle" font-size="7.6">-60</text><text transform="translate(64.1 662.4) scale(0.94 1.06)" text-anchor="middle" font-size="7.6">-40</text><text transform="translate(87.4 662.4) scale(0.94 1.06)" text-anchor="middle" font-size="7.6">-20</text><text transform="translate(110.6 662.4) scale(0.94 1.06)" text-anchor="middle" font-size="7.6">0</text><text transform="translate(133.9 662.4) scale(0.94 1.06)" text-anchor="middle" font-size="7.6">20</text><text transform="translate(157.2 662.4) scale(0.94 1.06)" text-anchor="middle" font-size="7.6">40</text><text transform="translate(180.5 662.4) scale(0.94 1.06)" text-anchor="middle" font-size="7.6">60</text><path d="M29 483.5h1.7M192.6 483.5h-1.7M29 517.1h1.7M192.6 517.1h-1.7M29 550.7h1.7M192.6 550.7h-1.7M29 584.2h1.7M192.6 584.2h-1.7M29 617.8h1.7M192.6 617.8h-1.7M40.8 651v-1.7M40.8 481.2v1.7M64.1 651v-1.7M64.1 481.2v1.7M87.4 651v-1.7M87.4 481.2v1.7M110.6 651v-1.7M110.6 481.2v1.7M133.9 651v-1.7M133.9 481.2v1.7M157.2 651v-1.7M157.2 481.2v1.7M180.5 651v-1.7M180.5 481.2v1.7" stroke="#262626" stroke-width="0.5" stroke-opacity="0.7" fill="none"/><text transform="translate(209.2 485.4) scale(0.82 1)" font-size="7.4">10<tspan dy="-3.5" dx="0.6" font-size="5.6">-4</tspan></text><text transform="translate(209.2 509.7) scale(0.82 1)" font-size="7.4">10<tspan dy="-3.5" dx="0.6" font-size="5.6">-6</tspan></text><text transform="translate(209.2 533.9) scale(0.82 1)" font-size="7.4">10<tspan dy="-3.5" dx="0.6" font-size="5.6">-8</tspan></text><text transform="translate(209.2 558.2) scale(0.82 1)" font-size="7.4">10<tspan dy="-3.5" dx="0.6" font-size="5.6">-10</tspan></text><text transform="translate(209.2 582.4) scale(0.82 1)" font-size="7.4">10<tspan dy="-3.5" dx="0.6" font-size="5.6">-12</tspan></text><text transform="translate(209.2 606.7) scale(0.82 1)" font-size="7.4">10<tspan dy="-3.5" dx="0.6" font-size="5.6">-14</tspan></text><text transform="translate(209.2 630.9) scale(0.82 1)" font-size="7.4">10<tspan dy="-3.5" dx="0.6" font-size="5.6">-16</tspan></text><text transform="translate(209.2 655.2) scale(0.82 1)" font-size="7.4">10<tspan dy="-3.5" dx="0.6" font-size="5.6">-18</tspan></text><path d="M197 505.5h1.2M205.8 505.5h-1.2M197 529.7h1.2M205.8 529.7h-1.2M197 554h1.2M205.8 554h-1.2M197 578.2h1.2M205.8 578.2h-1.2M197 602.5h1.2M205.8 602.5h-1.2M197 626.7h1.2M205.8 626.7h-1.2" stroke="#262626" stroke-width="0.4" stroke-opacity="0.6" fill="none"/><text class="m" x="111.6" y="672.2" text-anchor="middle">x</text><text class="m" transform="translate(11.8 565.1) rotate(-90)" text-anchor="middle" font-size="18.5">z</text><text class="c" x="113.9" y="697.3" text-anchor="middle">(<tspan font-weight="bold">g</tspan>)</text></g>
<g><rect x="281" y="478.2" width="161.6" height="172.4" fill="none" stroke="#262626" stroke-width="0.5" stroke-opacity="0.55"/><rect x="446.9" y="478.2" width="8.9" height="172.4" fill="none" stroke="#262626" stroke-width="0.5" stroke-opacity="0.45"/><path d="M281 650.1H442.6" stroke="#262626" stroke-width="1" stroke-opacity="0.6" fill="none"/><text transform="translate(278.1 483.7) scale(0.94 1.06)" text-anchor="end" font-size="7.6">80</text><text transform="translate(278.1 517.6) scale(0.94 1.06)" text-anchor="end" font-size="7.6">60</text><text transform="translate(278.1 551.6) scale(0.94 1.06)" text-anchor="end" font-size="7.6">40</text><text transform="translate(278.1 585.6) scale(0.94 1.06)" text-anchor="end" font-size="7.6">20</text><text transform="translate(278.1 619.6) scale(0.94 1.06)" text-anchor="end" font-size="7.6">0</text><text transform="translate(278.1 653.6) scale(0.94 1.06)" text-anchor="end" font-size="7.6">-20</text><text transform="translate(292.4 662) scale(0.94 1.06)" text-anchor="middle" font-size="7.6">-60</text><text transform="translate(315.5 662) scale(0.94 1.06)" text-anchor="middle" font-size="7.6">-40</text><text transform="translate(338.6 662) scale(0.94 1.06)" text-anchor="middle" font-size="7.6">-20</text><text transform="translate(361.8 662) scale(0.94 1.06)" text-anchor="middle" font-size="7.6">0</text><text transform="translate(384.9 662) scale(0.94 1.06)" text-anchor="middle" font-size="7.6">20</text><text transform="translate(408 662) scale(0.94 1.06)" text-anchor="middle" font-size="7.6">40</text><text transform="translate(431.1 662) scale(0.94 1.06)" text-anchor="middle" font-size="7.6">60</text><path d="M281 480.8h1.7M442.6 480.8h-1.7M281 514.8h1.7M442.6 514.8h-1.7M281 548.8h1.7M442.6 548.8h-1.7M281 582.7h1.7M442.6 582.7h-1.7M281 616.7h1.7M442.6 616.7h-1.7M292.4 650.6v-1.7M292.4 478.2v1.7M315.5 650.6v-1.7M315.5 478.2v1.7M338.6 650.6v-1.7M338.6 478.2v1.7M361.8 650.6v-1.7M361.8 478.2v1.7M384.9 650.6v-1.7M384.9 478.2v1.7M408 650.6v-1.7M408 478.2v1.7M431.1 650.6v-1.7M431.1 478.2v1.7" stroke="#262626" stroke-width="0.5" stroke-opacity="0.7" fill="none"/><text transform="translate(459.2 482.4) scale(0.82 1)" font-size="7.4">10<tspan dy="-3.5" dx="0.6" font-size="5.6">-4</tspan></text><text transform="translate(459.2 507) scale(0.82 1)" font-size="7.4">10<tspan dy="-3.5" dx="0.6" font-size="5.6">-6</tspan></text><text transform="translate(459.2 531.7) scale(0.82 1)" font-size="7.4">10<tspan dy="-3.5" dx="0.6" font-size="5.6">-8</tspan></text><text transform="translate(459.2 556.3) scale(0.82 1)" font-size="7.4">10<tspan dy="-3.5" dx="0.6" font-size="5.6">-10</tspan></text><text transform="translate(459.2 580.9) scale(0.82 1)" font-size="7.4">10<tspan dy="-3.5" dx="0.6" font-size="5.6">-12</tspan></text><text transform="translate(459.2 605.5) scale(0.82 1)" font-size="7.4">10<tspan dy="-3.5" dx="0.6" font-size="5.6">-14</tspan></text><text transform="translate(459.2 630.2) scale(0.82 1)" font-size="7.4">10<tspan dy="-3.5" dx="0.6" font-size="5.6">-16</tspan></text><text transform="translate(459.2 654.8) scale(0.82 1)" font-size="7.4">10<tspan dy="-3.5" dx="0.6" font-size="5.6">-18</tspan></text><path d="M446.9 502.8h1.2M455.8 502.8h-1.2M446.9 527.5h1.2M455.8 527.5h-1.2M446.9 552.1h1.2M455.8 552.1h-1.2M446.9 576.7h1.2M455.8 576.7h-1.2M446.9 601.3h1.2M455.8 601.3h-1.2M446.9 626h1.2M455.8 626h-1.2" stroke="#262626" stroke-width="0.4" stroke-opacity="0.6" fill="none"/><text class="m" x="362.6" y="672.2" text-anchor="middle">x</text><text class="m" transform="translate(263.8 563.4) rotate(-90)" text-anchor="middle" font-size="18.5">z</text><text class="c" x="365.4" y="697.3" text-anchor="middle">(<tspan font-weight="bold">h</tspan>)</text></g>
<g><rect x="533.1" y="478.2" width="160.6" height="172.4" fill="none" stroke="#262626" stroke-width="0.5" stroke-opacity="0.55"/><rect x="698.2" y="478.2" width="8.9" height="172.4" fill="none" stroke="#262626" stroke-width="0.5" stroke-opacity="0.45"/><path d="M533.1 650.1H693.7" stroke="#262626" stroke-width="1" stroke-opacity="0.6" fill="none"/><text transform="translate(530.2 483.7) scale(0.94 1.06)" text-anchor="end" font-size="7.6">80</text><text transform="translate(530.2 517.6) scale(0.94 1.06)" text-anchor="end" font-size="7.6">60</text><text transform="translate(530.2 551.6) scale(0.94 1.06)" text-anchor="end" font-size="7.6">40</text><text transform="translate(530.2 585.6) scale(0.94 1.06)" text-anchor="end" font-size="7.6">20</text><text transform="translate(530.2 619.6) scale(0.94 1.06)" text-anchor="end" font-size="7.6">0</text><text transform="translate(530.2 653.6) scale(0.94 1.06)" text-anchor="end" font-size="7.6">-20</text><text transform="translate(544.4 662) scale(0.94 1.06)" text-anchor="middle" font-size="7.6">-60</text><text transform="translate(567.4 662) scale(0.94 1.06)" text-anchor="middle" font-size="7.6">-40</text><text transform="translate(590.4 662) scale(0.94 1.06)" text-anchor="middle" font-size="7.6">-20</text><text transform="translate(613.3 662) scale(0.94 1.06)" text-anchor="middle" font-size="7.6">0</text><text transform="translate(636.3 662) scale(0.94 1.06)" text-anchor="middle" font-size="7.6">20</text><text transform="translate(659.3 662) scale(0.94 1.06)" text-anchor="middle" font-size="7.6">40</text><text transform="translate(682.3 662) scale(0.94 1.06)" text-anchor="middle" font-size="7.6">60</text><path d="M533.1 480.8h1.7M693.7 480.8h-1.7M533.1 514.8h1.7M693.7 514.8h-1.7M533.1 548.8h1.7M693.7 548.8h-1.7M533.1 582.7h1.7M693.7 582.7h-1.7M533.1 616.7h1.7M693.7 616.7h-1.7M544.4 650.6v-1.7M544.4 478.2v1.7M567.4 650.6v-1.7M567.4 478.2v1.7M590.4 650.6v-1.7M590.4 478.2v1.7M613.3 650.6v-1.7M613.3 478.2v1.7M636.3 650.6v-1.7M636.3 478.2v1.7M659.3 650.6v-1.7M659.3 478.2v1.7M682.3 650.6v-1.7M682.3 478.2v1.7" stroke="#262626" stroke-width="0.5" stroke-opacity="0.7" fill="none"/><text transform="translate(710.5 482.4) scale(0.82 1)" font-size="7.4">10<tspan dy="-3.5" dx="0.6" font-size="5.6">-4</tspan></text><text transform="translate(710.5 507) scale(0.82 1)" font-size="7.4">10<tspan dy="-3.5" dx="0.6" font-size="5.6">-6</tspan></text><text transform="translate(710.5 531.7) scale(0.82 1)" font-size="7.4">10<tspan dy="-3.5" dx="0.6" font-size="5.6">-8</tspan></text><text transform="translate(710.5 556.3) scale(0.82 1)" font-size="7.4">10<tspan dy="-3.5" dx="0.6" font-size="5.6">-10</tspan></text><text transform="translate(710.5 580.9) scale(0.82 1)" font-size="7.4">10<tspan dy="-3.5" dx="0.6" font-size="5.6">-12</tspan></text><text transform="translate(710.5 605.5) scale(0.82 1)" font-size="7.4">10<tspan dy="-3.5" dx="0.6" font-size="5.6">-14</tspan></text><text transform="translate(710.5 630.2) scale(0.82 1)" font-size="7.4">10<tspan dy="-3.5" dx="0.6" font-size="5.6">-16</tspan></text><text transform="translate(710.5 654.8) scale(0.82 1)" font-size="7.4">10<tspan dy="-3.5" dx="0.6" font-size="5.6">-18</tspan></text><path d="M698.2 502.8h1.2M707.1 502.8h-1.2M698.2 527.5h1.2M707.1 527.5h-1.2M698.2 552.1h1.2M707.1 552.1h-1.2M698.2 576.7h1.2M707.1 576.7h-1.2M698.2 601.3h1.2M707.1 601.3h-1.2M698.2 626h1.2M707.1 626h-1.2" stroke="#262626" stroke-width="0.4" stroke-opacity="0.6" fill="none"/><text class="m" x="614.2" y="672.2" text-anchor="middle">x</text><text class="m" transform="translate(515.8 563.4) rotate(-90)" text-anchor="middle" font-size="18.5">z</text><text class="c" x="617.5" y="697.3" text-anchor="middle">(<tspan font-weight="bold">i</tspan>)</text></g>
</svg>
</body>
</html>
